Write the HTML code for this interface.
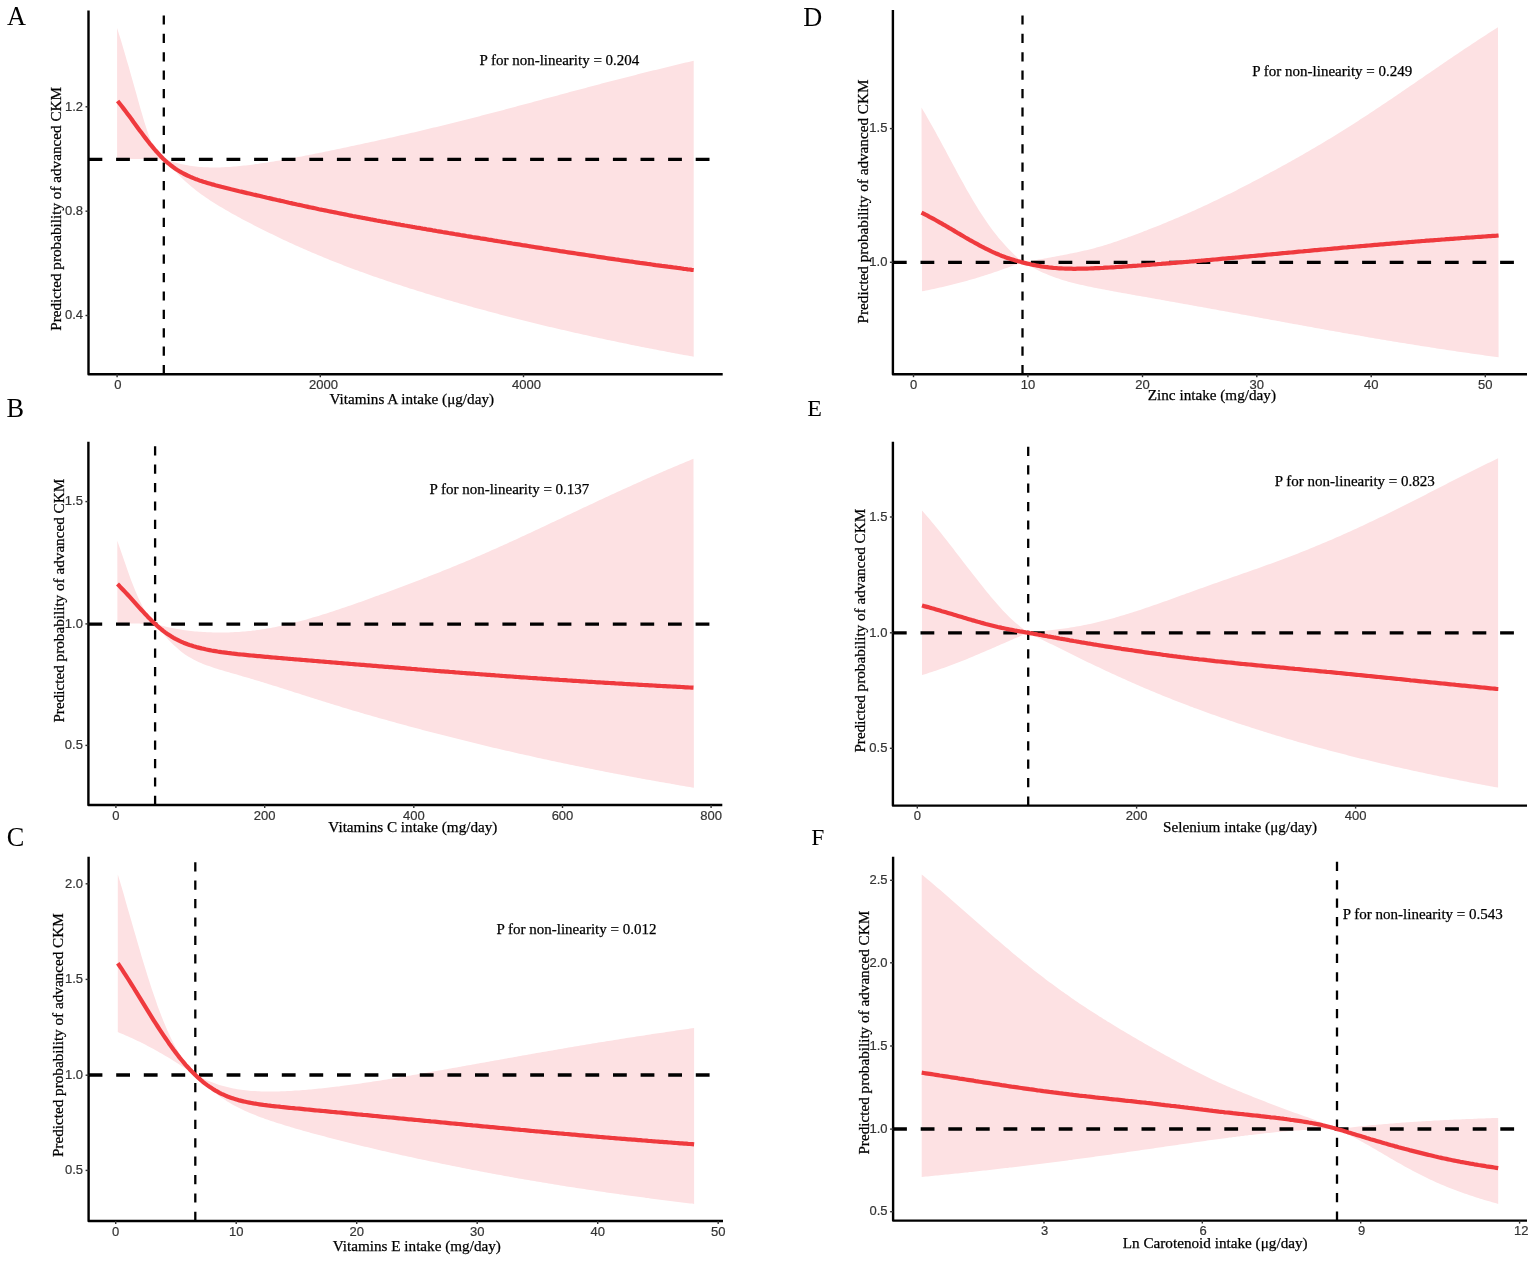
<!DOCTYPE html>
<html><head><meta charset="utf-8"><title>Restricted cubic spline plots</title>
<style>html,body{margin:0;padding:0;background:#fff;overflow:hidden;}svg{display:block;}</style></head><body>
<svg width="1535" height="1262" viewBox="0 0 1535 1262">
<rect width="1535" height="1262" fill="#fff"/>
<g>
<path d="M117.1,27.9 L119.0,34.2 L121.0,40.6 L122.9,47.1 L124.9,53.7 L126.8,60.4 L128.8,67.1 L130.7,74.0 L132.7,80.9 L134.6,87.8 L136.6,94.8 L138.5,101.7 L140.4,108.5 L142.4,115.2 L144.3,121.7 L146.3,128.0 L148.2,133.8 L150.2,139.2 L152.1,144.0 L154.1,148.1 L156.0,151.5 L158.0,154.3 L159.9,156.4 L161.9,158.0 L163.8,159.4 L165.8,159.9 L167.8,160.5 L169.8,161.1 L171.8,161.6 L173.8,162.2 L175.8,162.7 L177.8,163.2 L179.8,163.7 L181.8,164.2 L183.8,164.6 L185.8,165.0 L187.8,165.3 L189.8,165.7 L191.8,166.0 L193.8,166.2 L195.8,166.5 L197.8,166.7 L199.8,166.9 L201.8,167.0 L203.8,167.2 L205.8,167.3 L207.8,167.3 L209.8,167.4 L211.8,167.4 L213.8,167.5 L215.8,167.5 L217.8,167.4 L219.8,167.4 L221.8,167.3 L223.8,167.2 L225.8,167.1 L227.8,167.0 L229.8,166.9 L231.8,166.7 L233.8,166.6 L235.8,166.4 L237.8,166.2 L239.8,166.0 L241.8,165.8 L243.8,165.6 L245.8,165.4 L247.8,165.2 L249.8,164.9 L251.8,164.7 L253.8,164.4 L255.8,164.1 L257.8,163.9 L259.8,163.6 L261.8,163.3 L263.8,163.0 L265.8,162.7 L267.8,162.4 L269.8,162.0 L271.8,161.7 L273.8,161.4 L275.8,161.1 L277.8,160.7 L279.8,160.4 L281.8,160.0 L283.8,159.7 L285.8,159.3 L287.8,159.0 L289.8,158.6 L291.8,158.2 L293.8,157.9 L295.8,157.5 L297.8,157.1 L299.8,156.7 L301.8,156.4 L303.8,156.0 L305.8,155.6 L307.8,155.2 L309.8,154.8 L311.8,154.4 L313.8,154.0 L315.8,153.6 L317.8,153.2 L319.8,152.8 L321.8,152.4 L323.8,152.0 L325.8,151.6 L327.8,151.2 L329.8,150.8 L331.8,150.3 L333.8,149.9 L335.8,149.5 L337.8,149.1 L339.8,148.7 L341.8,148.3 L343.8,147.8 L345.8,147.4 L347.8,147.0 L349.8,146.6 L351.8,146.1 L353.8,145.7 L355.8,145.3 L357.8,144.8 L359.8,144.4 L361.8,144.0 L363.8,143.6 L365.8,143.1 L367.8,142.7 L369.8,142.2 L371.8,141.8 L373.8,141.4 L375.8,140.9 L377.8,140.5 L379.8,140.0 L381.8,139.6 L383.8,139.2 L385.8,138.7 L387.8,138.3 L389.8,137.8 L391.8,137.4 L393.8,136.9 L395.8,136.5 L397.8,136.0 L399.8,135.6 L401.8,135.1 L403.8,134.7 L405.8,134.2 L407.8,133.7 L409.8,133.3 L411.8,132.8 L413.8,132.4 L415.8,131.9 L417.8,131.4 L419.8,131.0 L421.8,130.5 L423.8,130.0 L425.8,129.5 L427.8,129.1 L429.7,128.6 L431.7,128.1 L433.7,127.6 L435.7,127.2 L437.7,126.7 L439.7,126.2 L441.7,125.7 L443.7,125.2 L445.7,124.7 L447.7,124.2 L449.7,123.7 L451.7,123.3 L453.7,122.8 L455.7,122.3 L457.7,121.8 L459.7,121.3 L461.7,120.8 L463.7,120.3 L465.7,119.7 L467.7,119.2 L469.7,118.7 L471.7,118.2 L473.7,117.7 L475.7,117.2 L477.7,116.7 L479.7,116.2 L481.7,115.6 L483.7,115.1 L485.7,114.6 L487.7,114.1 L489.7,113.6 L491.7,113.0 L493.7,112.5 L495.7,112.0 L497.7,111.5 L499.7,110.9 L501.7,110.4 L503.7,109.9 L505.7,109.3 L507.7,108.8 L509.7,108.3 L511.7,107.7 L513.7,107.2 L515.7,106.7 L517.7,106.1 L519.7,105.6 L521.7,105.1 L523.7,104.5 L525.7,104.0 L527.7,103.5 L529.7,102.9 L531.7,102.4 L533.7,101.8 L535.7,101.3 L537.7,100.8 L539.7,100.2 L541.7,99.7 L543.7,99.1 L545.7,98.6 L547.7,98.1 L549.7,97.5 L551.7,97.0 L553.7,96.5 L555.7,95.9 L557.7,95.4 L559.7,94.8 L561.7,94.3 L563.7,93.8 L565.7,93.2 L567.7,92.7 L569.7,92.1 L571.7,91.6 L573.7,91.1 L575.7,90.5 L577.7,90.0 L579.7,89.5 L581.7,88.9 L583.7,88.4 L585.7,87.9 L587.7,87.3 L589.7,86.8 L591.7,86.3 L593.7,85.7 L595.7,85.2 L597.7,84.7 L599.7,84.2 L601.7,83.6 L603.7,83.1 L605.7,82.6 L607.7,82.1 L609.7,81.5 L611.7,81.0 L613.7,80.5 L615.7,80.0 L617.7,79.5 L619.7,78.9 L621.7,78.4 L623.7,77.9 L625.7,77.4 L627.7,76.9 L629.7,76.4 L631.7,75.9 L633.7,75.4 L635.7,74.9 L637.7,74.3 L639.7,73.8 L641.7,73.3 L643.7,72.8 L645.7,72.3 L647.7,71.8 L649.7,71.3 L651.7,70.8 L653.7,70.3 L655.7,69.9 L657.7,69.4 L659.7,68.9 L661.7,68.4 L663.7,67.9 L665.7,67.4 L667.7,66.9 L669.7,66.4 L671.7,66.0 L673.7,65.5 L675.7,65.0 L677.7,64.5 L679.7,64.1 L681.7,63.6 L683.7,63.1 L685.7,62.6 L687.7,62.2 L689.7,61.7 L691.7,61.2 L693.7,60.8 L693.7,356.7 L691.7,356.3 L689.7,356.0 L687.7,355.6 L685.7,355.3 L683.7,354.9 L681.7,354.5 L679.7,354.2 L677.7,353.8 L675.7,353.4 L673.7,353.0 L671.7,352.7 L669.7,352.3 L667.7,351.9 L665.7,351.5 L663.7,351.1 L661.7,350.8 L659.7,350.4 L657.7,350.0 L655.7,349.6 L653.7,349.2 L651.7,348.8 L649.7,348.4 L647.7,348.0 L645.7,347.7 L643.7,347.3 L641.7,346.9 L639.7,346.5 L637.7,346.1 L635.7,345.7 L633.7,345.3 L631.7,344.9 L629.7,344.4 L627.7,344.0 L625.7,343.6 L623.7,343.2 L621.7,342.8 L619.7,342.4 L617.7,342.0 L615.7,341.6 L613.7,341.1 L611.7,340.7 L609.7,340.3 L607.7,339.9 L605.7,339.5 L603.7,339.0 L601.7,338.6 L599.7,338.2 L597.7,337.7 L595.7,337.3 L593.7,336.9 L591.7,336.4 L589.7,336.0 L587.7,335.6 L585.7,335.1 L583.7,334.7 L581.7,334.2 L579.7,333.8 L577.7,333.3 L575.7,332.9 L573.7,332.4 L571.7,332.0 L569.7,331.5 L567.7,331.1 L565.7,330.6 L563.7,330.1 L561.7,329.7 L559.7,329.2 L557.7,328.8 L555.7,328.3 L553.7,327.8 L551.7,327.3 L549.7,326.9 L547.7,326.4 L545.7,325.9 L543.7,325.4 L541.7,325.0 L539.7,324.5 L537.7,324.0 L535.7,323.5 L533.7,323.0 L531.7,322.5 L529.7,322.0 L527.7,321.5 L525.7,321.0 L523.7,320.5 L521.7,320.0 L519.7,319.5 L517.7,319.0 L515.7,318.5 L513.7,318.0 L511.7,317.5 L509.7,317.0 L507.7,316.5 L505.7,315.9 L503.7,315.4 L501.7,314.9 L499.7,314.4 L497.7,313.8 L495.7,313.3 L493.7,312.8 L491.7,312.3 L489.7,311.7 L487.7,311.2 L485.7,310.6 L483.7,310.1 L481.7,309.6 L479.7,309.0 L477.7,308.5 L475.7,307.9 L473.7,307.4 L471.7,306.8 L469.7,306.2 L467.7,305.7 L465.7,305.1 L463.7,304.6 L461.7,304.0 L459.7,303.4 L457.7,302.8 L455.7,302.3 L453.7,301.7 L451.7,301.1 L449.7,300.5 L447.7,299.9 L445.7,299.4 L443.7,298.8 L441.7,298.2 L439.7,297.6 L437.7,297.0 L435.7,296.4 L433.7,295.8 L431.7,295.2 L429.7,294.6 L427.8,294.0 L425.8,293.4 L423.8,292.7 L421.8,292.1 L419.8,291.5 L417.8,290.9 L415.8,290.3 L413.8,289.6 L411.8,289.0 L409.8,288.4 L407.8,287.7 L405.8,287.1 L403.8,286.4 L401.8,285.8 L399.8,285.1 L397.8,284.5 L395.8,283.8 L393.8,283.2 L391.8,282.5 L389.8,281.8 L387.8,281.2 L385.8,280.5 L383.8,279.8 L381.8,279.1 L379.8,278.5 L377.8,277.8 L375.8,277.1 L373.8,276.4 L371.8,275.7 L369.8,275.0 L367.8,274.3 L365.8,273.5 L363.8,272.8 L361.8,272.1 L359.8,271.4 L357.8,270.6 L355.8,269.9 L353.8,269.2 L351.8,268.4 L349.8,267.7 L347.8,266.9 L345.8,266.2 L343.8,265.4 L341.8,264.6 L339.8,263.8 L337.8,263.1 L335.8,262.3 L333.8,261.5 L331.8,260.7 L329.8,259.9 L327.8,259.1 L325.8,258.3 L323.8,257.4 L321.8,256.6 L319.8,255.8 L317.8,255.0 L315.8,254.1 L313.8,253.3 L311.8,252.4 L309.8,251.6 L307.8,250.7 L305.8,249.8 L303.8,248.9 L301.8,248.1 L299.8,247.2 L297.8,246.3 L295.8,245.4 L293.8,244.5 L291.8,243.6 L289.8,242.7 L287.8,241.7 L285.8,240.8 L283.8,239.9 L281.8,238.9 L279.8,238.0 L277.8,237.0 L275.8,236.1 L273.8,235.1 L271.8,234.1 L269.8,233.2 L267.8,232.2 L265.8,231.2 L263.8,230.2 L261.8,229.2 L259.8,228.2 L257.8,227.2 L255.8,226.2 L253.8,225.2 L251.8,224.1 L249.8,223.1 L247.8,222.0 L245.8,221.0 L243.8,219.9 L241.8,218.9 L239.8,217.8 L237.8,216.7 L235.8,215.6 L233.8,214.5 L231.8,213.4 L229.8,212.3 L227.8,211.1 L225.8,210.0 L223.8,208.8 L221.8,207.6 L219.8,206.4 L217.8,205.2 L215.8,204.0 L213.8,202.7 L211.8,201.5 L209.8,200.2 L207.8,198.8 L205.8,197.5 L203.8,196.1 L201.8,194.7 L199.8,193.2 L197.8,191.7 L195.8,190.2 L193.8,188.6 L191.8,186.9 L189.8,185.2 L187.8,183.5 L185.8,181.7 L183.8,179.9 L181.8,178.0 L179.8,176.1 L177.8,174.1 L175.8,172.1 L173.8,170.0 L171.8,167.9 L169.8,165.8 L167.8,163.7 L165.8,161.5 L163.8,159.3 L161.9,159.3 L159.9,159.3 L158.0,159.2 L156.0,159.2 L154.1,159.2 L152.1,159.2 L150.2,159.2 L148.2,159.1 L146.3,159.1 L144.3,159.1 L142.4,159.1 L140.4,159.1 L138.5,159.0 L136.6,159.0 L134.6,159.0 L132.7,159.0 L130.7,158.9 L128.8,158.9 L126.8,158.9 L124.9,158.9 L122.9,158.9 L121.0,158.8 L119.0,158.8 L117.1,158.8 Z" fill="#FDE1E3"/>
<line x1="88.5" y1="159.3" x2="722.7" y2="159.3" stroke="#000" stroke-width="3.3" stroke-dasharray="13.8 13.8"/>
<line x1="163.8" y1="374.2" x2="163.8" y2="10.5" stroke="#000" stroke-width="2.3" stroke-dasharray="9.2 9.2"/>
<path d="M117.6,101.0 L119.6,103.5 L121.6,106.0 L123.6,108.6 L125.6,111.2 L127.6,113.9 L129.6,116.6 L131.6,119.3 L133.5,122.0 L135.5,124.7 L137.5,127.5 L139.5,130.2 L141.5,132.8 L143.5,135.5 L145.5,138.1 L147.5,140.7 L149.5,143.3 L151.5,145.7 L153.5,148.1 L155.5,150.5 L157.5,152.7 L159.5,154.9 L161.5,157.0 L163.4,158.9 L165.4,160.8 L167.4,162.6 L169.4,164.2 L171.4,165.8 L173.4,167.3 L175.4,168.7 L177.4,170.0 L179.4,171.2 L181.4,172.4 L183.4,173.5 L185.4,174.5 L187.4,175.5 L189.4,176.4 L191.4,177.3 L193.4,178.1 L195.3,178.9 L197.3,179.6 L199.3,180.4 L201.3,181.0 L203.3,181.7 L205.3,182.3 L207.3,182.9 L209.3,183.5 L211.3,184.1 L213.3,184.6 L215.3,185.2 L217.3,185.7 L219.3,186.2 L221.3,186.8 L223.3,187.3 L225.2,187.8 L227.2,188.3 L229.2,188.8 L231.2,189.3 L233.2,189.7 L235.2,190.2 L237.2,190.7 L239.2,191.2 L241.2,191.6 L243.2,192.1 L245.2,192.6 L247.2,193.1 L249.2,193.5 L251.2,194.0 L253.2,194.5 L255.1,194.9 L257.1,195.4 L259.1,195.8 L261.1,196.3 L263.1,196.8 L265.1,197.2 L267.1,197.7 L269.1,198.1 L271.1,198.6 L273.1,199.1 L275.1,199.5 L277.1,200.0 L279.1,200.4 L281.1,200.9 L283.1,201.3 L285.0,201.8 L287.0,202.2 L289.0,202.7 L291.0,203.1 L293.0,203.6 L295.0,204.0 L297.0,204.5 L299.0,204.9 L301.0,205.3 L303.0,205.8 L305.0,206.2 L307.0,206.6 L309.0,207.1 L311.0,207.5 L313.0,207.9 L314.9,208.3 L316.9,208.7 L318.9,209.2 L320.9,209.6 L322.9,210.0 L324.9,210.4 L326.9,210.8 L328.9,211.2 L330.9,211.6 L332.9,212.0 L334.9,212.4 L336.9,212.8 L338.9,213.2 L340.9,213.6 L342.9,214.0 L344.9,214.4 L346.8,214.8 L348.8,215.2 L350.8,215.6 L352.8,216.0 L354.8,216.3 L356.8,216.7 L358.8,217.1 L360.8,217.5 L362.8,217.9 L364.8,218.2 L366.8,218.6 L368.8,219.0 L370.8,219.4 L372.8,219.7 L374.8,220.1 L376.7,220.5 L378.7,220.8 L380.7,221.2 L382.7,221.6 L384.7,221.9 L386.7,222.3 L388.7,222.6 L390.7,223.0 L392.7,223.4 L394.7,223.7 L396.7,224.1 L398.7,224.4 L400.7,224.8 L402.7,225.1 L404.7,225.5 L406.6,225.8 L408.6,226.2 L410.6,226.5 L412.6,226.9 L414.6,227.2 L416.6,227.6 L418.6,227.9 L420.6,228.2 L422.6,228.6 L424.6,228.9 L426.6,229.3 L428.6,229.6 L430.6,229.9 L432.6,230.3 L434.6,230.6 L436.5,231.0 L438.5,231.3 L440.5,231.6 L442.5,232.0 L444.5,232.3 L446.5,232.6 L448.5,233.0 L450.5,233.3 L452.5,233.6 L454.5,234.0 L456.5,234.3 L458.5,234.6 L460.5,235.0 L462.5,235.3 L464.5,235.6 L466.4,236.0 L468.4,236.3 L470.4,236.6 L472.4,237.0 L474.4,237.3 L476.4,237.6 L478.4,237.9 L480.4,238.3 L482.4,238.6 L484.4,238.9 L486.4,239.2 L488.4,239.6 L490.4,239.9 L492.4,240.2 L494.4,240.6 L496.4,240.9 L498.3,241.2 L500.3,241.5 L502.3,241.9 L504.3,242.2 L506.3,242.5 L508.3,242.8 L510.3,243.1 L512.3,243.5 L514.3,243.8 L516.3,244.1 L518.3,244.4 L520.3,244.7 L522.3,245.1 L524.3,245.4 L526.3,245.7 L528.2,246.0 L530.2,246.3 L532.2,246.7 L534.2,247.0 L536.2,247.3 L538.2,247.6 L540.2,247.9 L542.2,248.2 L544.2,248.6 L546.2,248.9 L548.2,249.2 L550.2,249.5 L552.2,249.8 L554.2,250.1 L556.2,250.4 L558.1,250.7 L560.1,251.1 L562.1,251.4 L564.1,251.7 L566.1,252.0 L568.1,252.3 L570.1,252.6 L572.1,252.9 L574.1,253.2 L576.1,253.5 L578.1,253.8 L580.1,254.1 L582.1,254.4 L584.1,254.7 L586.1,255.0 L588.0,255.3 L590.0,255.6 L592.0,255.9 L594.0,256.2 L596.0,256.5 L598.0,256.8 L600.0,257.1 L602.0,257.4 L604.0,257.7 L606.0,258.0 L608.0,258.3 L610.0,258.6 L612.0,258.9 L614.0,259.2 L616.0,259.5 L617.9,259.7 L619.9,260.0 L621.9,260.3 L623.9,260.6 L625.9,260.9 L627.9,261.2 L629.9,261.5 L631.9,261.7 L633.9,262.0 L635.9,262.3 L637.9,262.6 L639.9,262.9 L641.9,263.1 L643.9,263.4 L645.9,263.7 L647.9,264.0 L649.8,264.2 L651.8,264.5 L653.8,264.8 L655.8,265.1 L657.8,265.3 L659.8,265.6 L661.8,265.9 L663.8,266.1 L665.8,266.4 L667.8,266.7 L669.8,266.9 L671.8,267.2 L673.8,267.5 L675.8,267.7 L677.8,268.0 L679.7,268.2 L681.7,268.5 L683.7,268.8 L685.7,269.0 L687.7,269.3 L689.7,269.5 L691.7,269.8 L693.7,270.0" fill="none" stroke="#EF3A3E" stroke-width="4.2" stroke-linejoin="round" stroke-linecap="butt"/>
<path d="M88.5,10.5 V374.2 H722.7" fill="none" stroke="#000" stroke-width="2.4" stroke-linejoin="round"/>
<line x1="117.1" y1="374.2" x2="117.1" y2="377.2" stroke="#333" stroke-width="1.4"/>
<text x="117.9" y="389.0" text-anchor="middle" font-family="'Liberation Sans', Arial, sans-serif" font-size="13" fill="#333333" stroke="#333333" stroke-width="0.2">0</text>
<line x1="320.3" y1="374.2" x2="320.3" y2="377.2" stroke="#333" stroke-width="1.4"/>
<text x="323.4" y="389.0" text-anchor="middle" font-family="'Liberation Sans', Arial, sans-serif" font-size="13" fill="#333333" stroke="#333333" stroke-width="0.2">2000</text>
<line x1="523.5" y1="374.2" x2="523.5" y2="377.2" stroke="#333" stroke-width="1.4"/>
<text x="526.4" y="389.0" text-anchor="middle" font-family="'Liberation Sans', Arial, sans-serif" font-size="13" fill="#333333" stroke="#333333" stroke-width="0.2">4000</text>
<line x1="85.5" y1="106.8" x2="88.5" y2="106.8" stroke="#333" stroke-width="1.4"/>
<text x="83.0" y="110.5" text-anchor="end" font-family="'Liberation Sans', Arial, sans-serif" font-size="13" fill="#333333" stroke="#333333" stroke-width="0.2">1.2</text>
<line x1="85.5" y1="211.2" x2="88.5" y2="211.2" stroke="#333" stroke-width="1.4"/>
<text x="83.0" y="214.9" text-anchor="end" font-family="'Liberation Sans', Arial, sans-serif" font-size="13" fill="#333333" stroke="#333333" stroke-width="0.2">0.8</text>
<line x1="85.5" y1="315.5" x2="88.5" y2="315.5" stroke="#333" stroke-width="1.4"/>
<text x="83.0" y="319.2" text-anchor="end" font-family="'Liberation Sans', Arial, sans-serif" font-size="13" fill="#333333" stroke="#333333" stroke-width="0.2">0.4</text>
<text x="411.8" y="404.0" text-anchor="middle" font-family="'Liberation Serif', 'Times New Roman', serif" font-size="15.2" fill="#000" stroke="#000" stroke-width="0.25">Vitamins A intake (μg/day)</text>
<text transform="translate(61.0,208.9) rotate(-90)" text-anchor="middle" font-family="'Liberation Serif', 'Times New Roman', serif" font-size="15.2" fill="#000" stroke="#000" stroke-width="0.25">Predicted probability of advanced CKM</text>
<text x="479.4" y="65.4" font-family="'Liberation Serif', 'Times New Roman', serif" font-size="15" fill="#000" stroke="#000" stroke-width="0.25">P for non-linearity = 0.204</text>
<text transform="translate(7.1,25.4) scale(1,1.075)" font-family="'Liberation Serif', 'Times New Roman', serif" font-size="26.3" fill="#000">A</text>
</g>
<g>
<path d="M117.3,540.8 L119.3,546.5 L121.3,552.2 L123.3,557.9 L125.3,563.7 L127.2,569.3 L129.2,574.9 L131.2,580.4 L133.2,585.6 L135.2,590.6 L137.2,595.3 L139.2,599.7 L141.2,603.7 L143.2,607.4 L145.2,610.8 L147.1,613.9 L149.1,616.8 L151.1,619.4 L153.1,621.9 L155.1,624.3 L157.1,624.6 L159.1,625.1 L161.1,625.6 L163.1,626.1 L165.1,626.5 L167.1,627.0 L169.1,627.4 L171.1,627.8 L173.0,628.2 L175.0,628.6 L177.0,629.0 L179.0,629.3 L181.0,629.6 L183.0,629.9 L185.0,630.2 L187.0,630.5 L189.0,630.7 L191.0,630.9 L193.0,631.2 L195.0,631.4 L197.0,631.5 L199.0,631.7 L201.0,631.8 L203.0,632.0 L205.0,632.1 L206.9,632.2 L208.9,632.3 L210.9,632.3 L212.9,632.4 L214.9,632.4 L216.9,632.5 L218.9,632.5 L220.9,632.5 L222.9,632.5 L224.9,632.5 L226.9,632.4 L228.9,632.4 L230.9,632.3 L232.9,632.2 L234.9,632.1 L236.9,632.0 L238.9,631.9 L240.8,631.8 L242.8,631.6 L244.8,631.5 L246.8,631.3 L248.8,631.1 L250.8,630.9 L252.8,630.6 L254.8,630.4 L256.8,630.1 L258.8,629.9 L260.8,629.6 L262.8,629.3 L264.8,629.0 L266.8,628.6 L268.8,628.3 L270.8,627.9 L272.8,627.6 L274.7,627.2 L276.7,626.8 L278.7,626.3 L280.7,625.9 L282.7,625.5 L284.7,625.0 L286.7,624.6 L288.7,624.1 L290.7,623.6 L292.7,623.1 L294.7,622.6 L296.7,622.1 L298.7,621.6 L300.7,621.0 L302.7,620.5 L304.7,619.9 L306.6,619.4 L308.6,618.8 L310.6,618.2 L312.6,617.6 L314.6,617.1 L316.6,616.5 L318.6,615.9 L320.6,615.2 L322.6,614.6 L324.6,614.0 L326.6,613.4 L328.6,612.7 L330.6,612.1 L332.6,611.4 L334.6,610.8 L336.6,610.1 L338.6,609.5 L340.5,608.8 L342.5,608.1 L344.5,607.4 L346.5,606.8 L348.5,606.1 L350.5,605.4 L352.5,604.7 L354.5,604.0 L356.5,603.3 L358.5,602.6 L360.5,601.9 L362.5,601.2 L364.5,600.4 L366.5,599.7 L368.5,599.0 L370.5,598.3 L372.5,597.6 L374.4,596.8 L376.4,596.1 L378.4,595.4 L380.4,594.6 L382.4,593.9 L384.4,593.2 L386.4,592.4 L388.4,591.7 L390.4,591.0 L392.4,590.2 L394.4,589.5 L396.4,588.7 L398.4,588.0 L400.4,587.2 L402.4,586.5 L404.4,585.7 L406.4,585.0 L408.3,584.2 L410.3,583.5 L412.3,582.7 L414.3,582.0 L416.3,581.2 L418.3,580.4 L420.3,579.7 L422.3,578.9 L424.3,578.1 L426.3,577.4 L428.3,576.6 L430.3,575.8 L432.3,575.0 L434.3,574.3 L436.3,573.5 L438.3,572.7 L440.3,571.9 L442.2,571.1 L444.2,570.3 L446.2,569.5 L448.2,568.7 L450.2,567.9 L452.2,567.1 L454.2,566.3 L456.2,565.5 L458.2,564.6 L460.2,563.8 L462.2,563.0 L464.2,562.2 L466.2,561.3 L468.2,560.5 L470.2,559.7 L472.2,558.8 L474.2,558.0 L476.1,557.1 L478.1,556.2 L480.1,555.4 L482.1,554.5 L484.1,553.7 L486.1,552.8 L488.1,551.9 L490.1,551.0 L492.1,550.1 L494.1,549.3 L496.1,548.4 L498.1,547.5 L500.1,546.6 L502.1,545.7 L504.1,544.8 L506.1,543.9 L508.1,543.0 L510.0,542.1 L512.0,541.2 L514.0,540.3 L516.0,539.4 L518.0,538.4 L520.0,537.5 L522.0,536.6 L524.0,535.7 L526.0,534.8 L528.0,533.8 L530.0,532.9 L532.0,532.0 L534.0,531.1 L536.0,530.1 L538.0,529.2 L540.0,528.3 L542.0,527.3 L543.9,526.4 L545.9,525.5 L547.9,524.5 L549.9,523.6 L551.9,522.6 L553.9,521.7 L555.9,520.8 L557.9,519.8 L559.9,518.9 L561.9,517.9 L563.9,517.0 L565.9,516.1 L567.9,515.1 L569.9,514.2 L571.9,513.2 L573.9,512.3 L575.8,511.4 L577.8,510.4 L579.8,509.5 L581.8,508.5 L583.8,507.6 L585.8,506.7 L587.8,505.7 L589.8,504.8 L591.8,503.9 L593.8,502.9 L595.8,502.0 L597.8,501.1 L599.8,500.1 L601.8,499.2 L603.8,498.3 L605.8,497.3 L607.8,496.4 L609.7,495.5 L611.7,494.6 L613.7,493.7 L615.7,492.7 L617.7,491.8 L619.7,490.9 L621.7,490.0 L623.7,489.1 L625.7,488.2 L627.7,487.3 L629.7,486.4 L631.7,485.5 L633.7,484.6 L635.7,483.7 L637.7,482.8 L639.7,481.9 L641.7,481.0 L643.6,480.1 L645.6,479.2 L647.6,478.3 L649.6,477.4 L651.6,476.6 L653.6,475.7 L655.6,474.8 L657.6,473.9 L659.6,473.1 L661.6,472.2 L663.6,471.3 L665.6,470.5 L667.6,469.6 L669.6,468.8 L671.6,467.9 L673.6,467.1 L675.6,466.2 L677.5,465.4 L679.5,464.5 L681.5,463.7 L683.5,462.9 L685.5,462.0 L687.5,461.2 L689.5,460.4 L691.5,459.5 L693.5,458.7 L693.9,787.7 L691.9,787.4 L689.9,787.0 L687.9,786.7 L685.9,786.4 L683.9,786.0 L681.9,785.7 L679.9,785.4 L677.9,785.0 L675.9,784.7 L673.9,784.3 L671.9,784.0 L670.0,783.6 L668.0,783.3 L666.0,782.9 L664.0,782.6 L662.0,782.2 L660.0,781.9 L658.0,781.5 L656.0,781.2 L654.0,780.8 L652.0,780.5 L650.0,780.1 L648.0,779.8 L646.0,779.4 L644.0,779.0 L642.0,778.7 L640.0,778.3 L638.0,777.9 L636.0,777.6 L634.0,777.2 L632.0,776.8 L630.0,776.5 L628.0,776.1 L626.1,775.7 L624.1,775.3 L622.1,775.0 L620.1,774.6 L618.1,774.2 L616.1,773.8 L614.1,773.4 L612.1,773.1 L610.1,772.7 L608.1,772.3 L606.1,771.9 L604.1,771.5 L602.1,771.1 L600.1,770.7 L598.1,770.3 L596.1,769.9 L594.1,769.5 L592.1,769.1 L590.1,768.7 L588.1,768.3 L586.1,767.9 L584.1,767.5 L582.1,767.1 L580.2,766.7 L578.2,766.3 L576.2,765.9 L574.2,765.5 L572.2,765.1 L570.2,764.7 L568.2,764.3 L566.2,763.8 L564.2,763.4 L562.2,763.0 L560.2,762.6 L558.2,762.2 L556.2,761.7 L554.2,761.3 L552.2,760.9 L550.2,760.5 L548.2,760.0 L546.2,759.6 L544.2,759.2 L542.2,758.7 L540.2,758.3 L538.2,757.9 L536.3,757.4 L534.3,757.0 L532.3,756.5 L530.3,756.1 L528.3,755.6 L526.3,755.2 L524.3,754.8 L522.3,754.3 L520.3,753.9 L518.3,753.4 L516.3,752.9 L514.3,752.5 L512.3,752.0 L510.3,751.6 L508.3,751.1 L506.3,750.7 L504.3,750.2 L502.3,749.7 L500.3,749.3 L498.3,748.8 L496.3,748.3 L494.3,747.9 L492.3,747.4 L490.4,746.9 L488.4,746.4 L486.4,746.0 L484.4,745.5 L482.4,745.0 L480.4,744.5 L478.4,744.0 L476.4,743.5 L474.4,743.1 L472.4,742.6 L470.4,742.1 L468.4,741.6 L466.4,741.1 L464.4,740.6 L462.4,740.1 L460.4,739.6 L458.4,739.1 L456.4,738.6 L454.4,738.1 L452.4,737.6 L450.4,737.1 L448.4,736.6 L446.5,736.1 L444.5,735.6 L442.5,735.1 L440.5,734.6 L438.5,734.0 L436.5,733.5 L434.5,733.0 L432.5,732.5 L430.5,732.0 L428.5,731.4 L426.5,730.9 L424.5,730.4 L422.5,729.9 L420.5,729.3 L418.5,728.8 L416.5,728.3 L414.5,727.8 L412.5,727.2 L410.5,726.7 L408.5,726.2 L406.5,725.6 L404.5,725.1 L402.5,724.5 L400.6,724.0 L398.6,723.4 L396.6,722.9 L394.6,722.3 L392.6,721.8 L390.6,721.2 L388.6,720.7 L386.6,720.1 L384.6,719.6 L382.6,719.0 L380.6,718.4 L378.6,717.9 L376.6,717.3 L374.6,716.8 L372.6,716.2 L370.6,715.6 L368.6,715.0 L366.6,714.5 L364.6,713.9 L362.6,713.3 L360.6,712.7 L358.6,712.1 L356.7,711.5 L354.7,710.9 L352.7,710.4 L350.7,709.8 L348.7,709.2 L346.7,708.6 L344.7,708.0 L342.7,707.4 L340.7,706.8 L338.7,706.1 L336.7,705.5 L334.7,704.9 L332.7,704.3 L330.7,703.7 L328.7,703.1 L326.7,702.5 L324.7,701.8 L322.7,701.2 L320.7,700.6 L318.7,700.0 L316.7,699.3 L314.7,698.7 L312.7,698.1 L310.8,697.4 L308.8,696.8 L306.8,696.2 L304.8,695.5 L302.8,694.9 L300.8,694.3 L298.8,693.6 L296.8,693.0 L294.8,692.4 L292.8,691.7 L290.8,691.1 L288.8,690.4 L286.8,689.8 L284.8,689.2 L282.8,688.5 L280.8,687.9 L278.8,687.3 L276.8,686.6 L274.8,686.0 L272.8,685.4 L270.8,684.8 L268.8,684.2 L266.9,683.5 L264.9,682.9 L262.9,682.3 L260.9,681.7 L258.9,681.1 L256.9,680.5 L254.9,679.9 L252.9,679.3 L250.9,678.7 L248.9,678.1 L246.9,677.5 L244.9,676.9 L242.9,676.4 L240.9,675.8 L238.9,675.2 L236.9,674.6 L234.9,674.1 L232.9,673.5 L230.9,672.9 L228.9,672.3 L226.9,671.8 L224.9,671.2 L222.9,670.6 L221.0,670.0 L219.0,669.4 L217.0,668.8 L215.0,668.2 L213.0,667.5 L211.0,666.8 L209.0,666.1 L207.0,665.4 L205.0,664.7 L203.0,663.9 L201.0,663.1 L199.0,662.2 L197.0,661.3 L195.0,660.3 L193.0,659.2 L191.0,658.1 L189.0,657.0 L187.0,655.7 L185.0,654.4 L183.0,653.0 L181.0,651.4 L179.0,649.8 L177.1,648.1 L175.1,646.3 L173.1,644.5 L171.1,642.5 L169.1,640.4 L167.1,638.3 L165.1,636.0 L163.1,633.8 L161.1,631.4 L159.1,629.1 L157.1,626.7 L155.1,624.1 L153.1,624.0 L151.1,624.0 L149.1,623.9 L147.2,623.9 L145.2,623.8 L143.2,623.8 L141.2,623.7 L139.2,623.6 L137.2,623.6 L135.3,623.5 L133.3,623.5 L131.3,623.4 L129.3,623.3 L127.3,623.3 L125.3,623.2 L123.4,623.2 L121.4,623.1 L119.4,623.1 L117.4,623.0 Z" fill="#FDE1E3"/>
<line x1="88.4" y1="624.1" x2="722.3" y2="624.1" stroke="#000" stroke-width="3.3" stroke-dasharray="13.8 13.8"/>
<line x1="155.1" y1="805.0" x2="155.1" y2="441.7" stroke="#000" stroke-width="2.3" stroke-dasharray="9.2 9.2"/>
<path d="M117.5,584.1 L119.5,586.1 L121.5,588.2 L123.5,590.3 L125.5,592.4 L127.5,594.5 L129.5,596.7 L131.5,598.9 L133.5,601.1 L135.5,603.3 L137.5,605.6 L139.5,607.8 L141.5,610.0 L143.5,612.1 L145.5,614.3 L147.5,616.4 L149.5,618.4 L151.5,620.5 L153.5,622.4 L155.5,624.3 L157.5,626.1 L159.5,627.8 L161.5,629.5 L163.5,631.1 L165.5,632.6 L167.5,634.0 L169.5,635.3 L171.5,636.6 L173.5,637.8 L175.5,638.9 L177.5,639.9 L179.5,640.9 L181.5,641.8 L183.5,642.7 L185.5,643.5 L187.5,644.3 L189.5,645.0 L191.5,645.6 L193.5,646.3 L195.5,646.8 L197.5,647.4 L199.5,647.9 L201.5,648.4 L203.5,648.8 L205.5,649.3 L207.5,649.7 L209.5,650.1 L211.5,650.5 L213.5,650.8 L215.5,651.1 L217.5,651.5 L219.5,651.8 L221.5,652.1 L223.5,652.3 L225.5,652.6 L227.5,652.9 L229.5,653.1 L231.5,653.4 L233.5,653.6 L235.5,653.8 L237.5,654.1 L239.5,654.3 L241.5,654.5 L243.5,654.7 L245.5,654.9 L247.5,655.1 L249.5,655.3 L251.5,655.5 L253.5,655.7 L255.5,655.9 L257.5,656.1 L259.5,656.2 L261.5,656.4 L263.5,656.6 L265.5,656.8 L267.5,656.9 L269.5,657.1 L271.5,657.3 L273.5,657.5 L275.5,657.6 L277.5,657.8 L279.5,658.0 L281.5,658.1 L283.5,658.3 L285.5,658.5 L287.5,658.7 L289.5,658.8 L291.5,659.0 L293.5,659.2 L295.5,659.3 L297.5,659.5 L299.5,659.6 L301.5,659.8 L303.5,660.0 L305.5,660.1 L307.5,660.3 L309.5,660.5 L311.5,660.6 L313.5,660.8 L315.5,661.0 L317.5,661.1 L319.5,661.3 L321.5,661.5 L323.5,661.6 L325.5,661.8 L327.5,662.0 L329.5,662.1 L331.5,662.3 L333.5,662.5 L335.5,662.6 L337.5,662.8 L339.5,663.0 L341.5,663.1 L343.5,663.3 L345.5,663.5 L347.5,663.6 L349.5,663.8 L351.5,664.0 L353.5,664.1 L355.5,664.3 L357.5,664.5 L359.5,664.6 L361.5,664.8 L363.5,664.9 L365.5,665.1 L367.5,665.3 L369.5,665.4 L371.5,665.6 L373.5,665.8 L375.5,665.9 L377.5,666.1 L379.5,666.3 L381.5,666.4 L383.5,666.6 L385.5,666.8 L387.5,666.9 L389.5,667.1 L391.5,667.2 L393.5,667.4 L395.5,667.6 L397.5,667.7 L399.5,667.9 L401.5,668.1 L403.5,668.2 L405.5,668.4 L407.5,668.6 L409.5,668.7 L411.5,668.9 L413.5,669.0 L415.5,669.2 L417.5,669.4 L419.5,669.5 L421.5,669.7 L423.5,669.8 L425.5,670.0 L427.5,670.2 L429.5,670.3 L431.5,670.5 L433.5,670.6 L435.5,670.8 L437.5,671.0 L439.5,671.1 L441.5,671.3 L443.5,671.4 L445.5,671.6 L447.5,671.7 L449.5,671.9 L451.5,672.0 L453.5,672.2 L455.5,672.4 L457.5,672.5 L459.5,672.7 L461.5,672.8 L463.5,673.0 L465.5,673.1 L467.5,673.3 L469.5,673.4 L471.5,673.6 L473.5,673.7 L475.5,673.9 L477.5,674.0 L479.5,674.2 L481.5,674.3 L483.5,674.5 L485.5,674.6 L487.5,674.8 L489.5,674.9 L491.5,675.1 L493.5,675.2 L495.5,675.4 L497.5,675.5 L499.5,675.7 L501.5,675.8 L503.5,676.0 L505.5,676.1 L507.5,676.3 L509.5,676.4 L511.5,676.5 L513.5,676.7 L515.5,676.8 L517.5,677.0 L519.5,677.1 L521.5,677.3 L523.5,677.4 L525.5,677.5 L527.5,677.7 L529.5,677.8 L531.5,678.0 L533.5,678.1 L535.5,678.2 L537.5,678.4 L539.5,678.5 L541.5,678.6 L543.5,678.8 L545.5,678.9 L547.5,679.1 L549.5,679.2 L551.5,679.3 L553.5,679.5 L555.5,679.6 L557.5,679.7 L559.5,679.9 L561.5,680.0 L563.5,680.1 L565.5,680.2 L567.5,680.4 L569.5,680.5 L571.5,680.6 L573.5,680.8 L575.5,680.9 L577.5,681.0 L579.5,681.1 L581.5,681.3 L583.5,681.4 L585.5,681.5 L587.5,681.7 L589.5,681.8 L591.5,681.9 L593.5,682.0 L595.5,682.2 L597.5,682.3 L599.5,682.4 L601.5,682.5 L603.5,682.6 L605.5,682.8 L607.5,682.9 L609.5,683.0 L611.5,683.1 L613.5,683.2 L615.5,683.4 L617.5,683.5 L619.5,683.6 L621.5,683.7 L623.5,683.8 L625.5,684.0 L627.5,684.1 L629.5,684.2 L631.5,684.3 L633.5,684.4 L635.5,684.5 L637.5,684.6 L639.5,684.8 L641.5,684.9 L643.5,685.0 L645.5,685.1 L647.5,685.2 L649.5,685.3 L651.5,685.4 L653.5,685.5 L655.5,685.6 L657.5,685.8 L659.5,685.9 L661.5,686.0 L663.5,686.1 L665.5,686.2 L667.5,686.3 L669.5,686.4 L671.5,686.5 L673.5,686.6 L675.5,686.7 L677.5,686.8 L679.5,686.9 L681.5,687.0 L683.5,687.1 L685.5,687.3 L687.5,687.4 L689.5,687.5 L691.5,687.6 L693.5,687.7" fill="none" stroke="#EF3A3E" stroke-width="4.2" stroke-linejoin="round" stroke-linecap="butt"/>
<path d="M88.4,441.7 V805.0 H722.3" fill="none" stroke="#000" stroke-width="2.4" stroke-linejoin="round"/>
<line x1="115.9" y1="805.0" x2="115.9" y2="808.0" stroke="#333" stroke-width="1.4"/>
<text x="115.9" y="819.8" text-anchor="middle" font-family="'Liberation Sans', Arial, sans-serif" font-size="13" fill="#333333" stroke="#333333" stroke-width="0.2">0</text>
<line x1="264.7" y1="805.0" x2="264.7" y2="808.0" stroke="#333" stroke-width="1.4"/>
<text x="264.7" y="819.8" text-anchor="middle" font-family="'Liberation Sans', Arial, sans-serif" font-size="13" fill="#333333" stroke="#333333" stroke-width="0.2">200</text>
<line x1="413.8" y1="805.0" x2="413.8" y2="808.0" stroke="#333" stroke-width="1.4"/>
<text x="413.8" y="819.8" text-anchor="middle" font-family="'Liberation Sans', Arial, sans-serif" font-size="13" fill="#333333" stroke="#333333" stroke-width="0.2">400</text>
<line x1="562.5" y1="805.0" x2="562.5" y2="808.0" stroke="#333" stroke-width="1.4"/>
<text x="562.5" y="819.8" text-anchor="middle" font-family="'Liberation Sans', Arial, sans-serif" font-size="13" fill="#333333" stroke="#333333" stroke-width="0.2">600</text>
<line x1="711.1" y1="805.0" x2="711.1" y2="808.0" stroke="#333" stroke-width="1.4"/>
<text x="711.1" y="819.8" text-anchor="middle" font-family="'Liberation Sans', Arial, sans-serif" font-size="13" fill="#333333" stroke="#333333" stroke-width="0.2">800</text>
<line x1="85.4" y1="501.6" x2="88.4" y2="501.6" stroke="#333" stroke-width="1.4"/>
<text x="82.9" y="505.3" text-anchor="end" font-family="'Liberation Sans', Arial, sans-serif" font-size="13" fill="#333333" stroke="#333333" stroke-width="0.2">1.5</text>
<line x1="85.4" y1="623.9" x2="88.4" y2="623.9" stroke="#333" stroke-width="1.4"/>
<text x="82.9" y="627.6" text-anchor="end" font-family="'Liberation Sans', Arial, sans-serif" font-size="13" fill="#333333" stroke="#333333" stroke-width="0.2">1.0</text>
<line x1="85.4" y1="745.4" x2="88.4" y2="745.4" stroke="#333" stroke-width="1.4"/>
<text x="82.9" y="749.1" text-anchor="end" font-family="'Liberation Sans', Arial, sans-serif" font-size="13" fill="#333333" stroke="#333333" stroke-width="0.2">0.5</text>
<text x="412.9" y="831.8" text-anchor="middle" font-family="'Liberation Serif', 'Times New Roman', serif" font-size="15.2" fill="#000" stroke="#000" stroke-width="0.25">Vitamins C intake (mg/day)</text>
<text transform="translate(63.8,600.7) rotate(-90)" text-anchor="middle" font-family="'Liberation Serif', 'Times New Roman', serif" font-size="15.2" fill="#000" stroke="#000" stroke-width="0.25">Predicted probability of advanced CKM</text>
<text x="429.4" y="493.8" font-family="'Liberation Serif', 'Times New Roman', serif" font-size="15" fill="#000" stroke="#000" stroke-width="0.25">P for non-linearity = 0.137</text>
<text transform="translate(6.6,416.6) scale(1,1.075)" font-family="'Liberation Serif', 'Times New Roman', serif" font-size="26.3" fill="#000">B</text>
</g>
<g>
<path d="M117.8,874.5 L119.8,881.1 L121.8,887.8 L123.8,894.6 L125.7,901.5 L127.7,908.4 L129.7,915.3 L131.7,922.2 L133.7,929.2 L135.7,936.1 L137.7,942.9 L139.7,949.7 L141.6,956.4 L143.6,963.1 L145.6,969.6 L147.6,976.0 L149.6,982.3 L151.6,988.4 L153.6,994.3 L155.6,1000.1 L157.5,1005.7 L159.5,1011.1 L161.5,1016.3 L163.5,1021.3 L165.5,1026.1 L167.5,1030.7 L169.5,1035.0 L171.5,1039.2 L173.4,1043.0 L175.4,1046.7 L177.4,1050.2 L179.4,1053.4 L181.4,1056.5 L183.4,1059.5 L185.4,1062.3 L187.4,1065.0 L189.3,1067.6 L191.3,1070.1 L193.3,1072.6 L195.3,1075.0 L197.3,1076.0 L199.3,1076.9 L201.3,1077.8 L203.3,1078.7 L205.3,1079.6 L207.3,1080.4 L209.3,1081.3 L211.3,1082.0 L213.3,1082.8 L215.3,1083.5 L217.2,1084.2 L219.2,1084.9 L221.2,1085.5 L223.2,1086.1 L225.2,1086.6 L227.2,1087.1 L229.2,1087.6 L231.2,1088.0 L233.2,1088.5 L235.2,1088.8 L237.2,1089.2 L239.2,1089.5 L241.2,1089.8 L243.2,1090.0 L245.2,1090.3 L247.2,1090.5 L249.2,1090.7 L251.2,1090.9 L253.2,1091.0 L255.2,1091.1 L257.2,1091.2 L259.1,1091.3 L261.1,1091.4 L263.1,1091.4 L265.1,1091.5 L267.1,1091.5 L269.1,1091.5 L271.1,1091.5 L273.1,1091.5 L275.1,1091.5 L277.1,1091.4 L279.1,1091.4 L281.1,1091.3 L283.1,1091.3 L285.1,1091.2 L287.1,1091.1 L289.1,1091.0 L291.1,1090.9 L293.1,1090.8 L295.1,1090.6 L297.1,1090.5 L299.1,1090.4 L301.0,1090.2 L303.0,1090.1 L305.0,1089.9 L307.0,1089.8 L309.0,1089.6 L311.0,1089.4 L313.0,1089.2 L315.0,1089.0 L317.0,1088.8 L319.0,1088.6 L321.0,1088.4 L323.0,1088.2 L325.0,1088.0 L327.0,1087.8 L329.0,1087.6 L331.0,1087.3 L333.0,1087.1 L335.0,1086.8 L337.0,1086.6 L339.0,1086.4 L340.9,1086.1 L342.9,1085.8 L344.9,1085.6 L346.9,1085.3 L348.9,1085.1 L350.9,1084.8 L352.9,1084.5 L354.9,1084.2 L356.9,1084.0 L358.9,1083.7 L360.9,1083.4 L362.9,1083.1 L364.9,1082.8 L366.9,1082.5 L368.9,1082.2 L370.9,1081.9 L372.9,1081.6 L374.9,1081.3 L376.9,1081.0 L378.9,1080.7 L380.9,1080.4 L382.8,1080.1 L384.8,1079.7 L386.8,1079.4 L388.8,1079.1 L390.8,1078.8 L392.8,1078.5 L394.8,1078.1 L396.8,1077.8 L398.8,1077.5 L400.8,1077.1 L402.8,1076.8 L404.8,1076.5 L406.8,1076.1 L408.8,1075.8 L410.8,1075.4 L412.8,1075.1 L414.8,1074.8 L416.8,1074.4 L418.8,1074.1 L420.8,1073.7 L422.8,1073.4 L424.7,1073.0 L426.7,1072.7 L428.7,1072.3 L430.7,1072.0 L432.7,1071.6 L434.7,1071.3 L436.7,1070.9 L438.7,1070.6 L440.7,1070.2 L442.7,1069.9 L444.7,1069.5 L446.7,1069.2 L448.7,1068.8 L450.7,1068.5 L452.7,1068.1 L454.7,1067.7 L456.7,1067.4 L458.7,1067.0 L460.7,1066.7 L462.7,1066.3 L464.7,1066.0 L466.6,1065.6 L468.6,1065.2 L470.6,1064.9 L472.6,1064.5 L474.6,1064.2 L476.6,1063.8 L478.6,1063.4 L480.6,1063.1 L482.6,1062.7 L484.6,1062.4 L486.6,1062.0 L488.6,1061.7 L490.6,1061.3 L492.6,1060.9 L494.6,1060.6 L496.6,1060.2 L498.6,1059.9 L500.6,1059.5 L502.6,1059.2 L504.6,1058.8 L506.6,1058.4 L508.5,1058.1 L510.5,1057.7 L512.5,1057.4 L514.5,1057.0 L516.5,1056.7 L518.5,1056.3 L520.5,1056.0 L522.5,1055.6 L524.5,1055.3 L526.5,1054.9 L528.5,1054.6 L530.5,1054.2 L532.5,1053.8 L534.5,1053.5 L536.5,1053.1 L538.5,1052.8 L540.5,1052.5 L542.5,1052.1 L544.5,1051.8 L546.5,1051.4 L548.5,1051.1 L550.4,1050.7 L552.4,1050.4 L554.4,1050.0 L556.4,1049.7 L558.4,1049.3 L560.4,1049.0 L562.4,1048.7 L564.4,1048.3 L566.4,1048.0 L568.4,1047.6 L570.4,1047.3 L572.4,1047.0 L574.4,1046.6 L576.4,1046.3 L578.4,1045.9 L580.4,1045.6 L582.4,1045.3 L584.4,1044.9 L586.4,1044.6 L588.4,1044.3 L590.3,1044.0 L592.3,1043.6 L594.3,1043.3 L596.3,1043.0 L598.3,1042.6 L600.3,1042.3 L602.3,1042.0 L604.3,1041.7 L606.3,1041.3 L608.3,1041.0 L610.3,1040.7 L612.3,1040.4 L614.3,1040.0 L616.3,1039.7 L618.3,1039.4 L620.3,1039.1 L622.3,1038.8 L624.3,1038.5 L626.3,1038.1 L628.3,1037.8 L630.3,1037.5 L632.2,1037.2 L634.2,1036.9 L636.2,1036.6 L638.2,1036.3 L640.2,1036.0 L642.2,1035.7 L644.2,1035.4 L646.2,1035.1 L648.2,1034.7 L650.2,1034.4 L652.2,1034.1 L654.2,1033.8 L656.2,1033.5 L658.2,1033.2 L660.2,1032.9 L662.2,1032.7 L664.2,1032.4 L666.2,1032.1 L668.2,1031.8 L670.2,1031.5 L672.2,1031.2 L674.1,1030.9 L676.1,1030.6 L678.1,1030.3 L680.1,1030.0 L682.1,1029.7 L684.1,1029.5 L686.1,1029.2 L688.1,1028.9 L690.1,1028.6 L692.1,1028.3 L694.1,1028.1 L694.1,1203.9 L692.1,1203.6 L690.1,1203.4 L688.1,1203.2 L686.1,1202.9 L684.1,1202.7 L682.1,1202.4 L680.1,1202.2 L678.1,1201.9 L676.1,1201.7 L674.1,1201.5 L672.2,1201.2 L670.2,1201.0 L668.2,1200.7 L666.2,1200.5 L664.2,1200.2 L662.2,1199.9 L660.2,1199.7 L658.2,1199.4 L656.2,1199.2 L654.2,1198.9 L652.2,1198.7 L650.2,1198.4 L648.2,1198.1 L646.2,1197.9 L644.2,1197.6 L642.2,1197.3 L640.2,1197.1 L638.2,1196.8 L636.2,1196.5 L634.2,1196.3 L632.2,1196.0 L630.3,1195.7 L628.3,1195.5 L626.3,1195.2 L624.3,1194.9 L622.3,1194.6 L620.3,1194.4 L618.3,1194.1 L616.3,1193.8 L614.3,1193.5 L612.3,1193.2 L610.3,1192.9 L608.3,1192.7 L606.3,1192.4 L604.3,1192.1 L602.3,1191.8 L600.3,1191.5 L598.3,1191.2 L596.3,1190.9 L594.3,1190.6 L592.3,1190.3 L590.3,1190.0 L588.4,1189.7 L586.4,1189.4 L584.4,1189.1 L582.4,1188.8 L580.4,1188.5 L578.4,1188.2 L576.4,1187.9 L574.4,1187.6 L572.4,1187.3 L570.4,1187.0 L568.4,1186.7 L566.4,1186.4 L564.4,1186.0 L562.4,1185.7 L560.4,1185.4 L558.4,1185.1 L556.4,1184.8 L554.4,1184.4 L552.4,1184.1 L550.4,1183.8 L548.5,1183.5 L546.5,1183.1 L544.5,1182.8 L542.5,1182.5 L540.5,1182.1 L538.5,1181.8 L536.5,1181.5 L534.5,1181.1 L532.5,1180.8 L530.5,1180.4 L528.5,1180.1 L526.5,1179.8 L524.5,1179.4 L522.5,1179.1 L520.5,1178.7 L518.5,1178.4 L516.5,1178.0 L514.5,1177.7 L512.5,1177.3 L510.5,1176.9 L508.5,1176.6 L506.6,1176.2 L504.6,1175.9 L502.6,1175.5 L500.6,1175.1 L498.6,1174.8 L496.6,1174.4 L494.6,1174.0 L492.6,1173.7 L490.6,1173.3 L488.6,1172.9 L486.6,1172.5 L484.6,1172.2 L482.6,1171.8 L480.6,1171.4 L478.6,1171.0 L476.6,1170.6 L474.6,1170.3 L472.6,1169.9 L470.6,1169.5 L468.6,1169.1 L466.6,1168.7 L464.7,1168.3 L462.7,1167.9 L460.7,1167.5 L458.7,1167.1 L456.7,1166.7 L454.7,1166.3 L452.7,1165.9 L450.7,1165.5 L448.7,1165.1 L446.7,1164.7 L444.7,1164.3 L442.7,1163.9 L440.7,1163.5 L438.7,1163.1 L436.7,1162.6 L434.7,1162.2 L432.7,1161.8 L430.7,1161.4 L428.7,1161.0 L426.7,1160.6 L424.7,1160.1 L422.8,1159.7 L420.8,1159.3 L418.8,1158.9 L416.8,1158.4 L414.8,1158.0 L412.8,1157.6 L410.8,1157.1 L408.8,1156.7 L406.8,1156.3 L404.8,1155.8 L402.8,1155.4 L400.8,1154.9 L398.8,1154.5 L396.8,1154.0 L394.8,1153.6 L392.8,1153.2 L390.8,1152.7 L388.8,1152.2 L386.8,1151.8 L384.8,1151.3 L382.8,1150.9 L380.9,1150.4 L378.9,1150.0 L376.9,1149.5 L374.9,1149.0 L372.9,1148.6 L370.9,1148.1 L368.9,1147.6 L366.9,1147.1 L364.9,1146.7 L362.9,1146.2 L360.9,1145.7 L358.9,1145.2 L356.9,1144.7 L354.9,1144.2 L352.9,1143.8 L350.9,1143.3 L348.9,1142.8 L346.9,1142.3 L344.9,1141.8 L342.9,1141.3 L340.9,1140.8 L339.0,1140.3 L337.0,1139.8 L335.0,1139.2 L333.0,1138.7 L331.0,1138.2 L329.0,1137.7 L327.0,1137.2 L325.0,1136.6 L323.0,1136.1 L321.0,1135.6 L319.0,1135.1 L317.0,1134.5 L315.0,1134.0 L313.0,1133.4 L311.0,1132.9 L309.0,1132.3 L307.0,1131.8 L305.0,1131.2 L303.0,1130.7 L301.0,1130.1 L299.1,1129.5 L297.1,1128.9 L295.1,1128.4 L293.1,1127.8 L291.1,1127.2 L289.1,1126.6 L287.1,1126.0 L285.1,1125.4 L283.1,1124.8 L281.1,1124.1 L279.1,1123.5 L277.1,1122.9 L275.1,1122.2 L273.1,1121.6 L271.1,1120.9 L269.1,1120.2 L267.1,1119.6 L265.1,1118.9 L263.1,1118.1 L261.1,1117.4 L259.1,1116.7 L257.2,1115.9 L255.2,1115.1 L253.2,1114.3 L251.2,1113.5 L249.2,1112.7 L247.2,1111.8 L245.2,1110.9 L243.2,1110.0 L241.2,1109.1 L239.2,1108.1 L237.2,1107.1 L235.2,1106.0 L233.2,1104.9 L231.2,1103.8 L229.2,1102.6 L227.2,1101.4 L225.2,1100.1 L223.2,1098.8 L221.2,1097.4 L219.2,1096.0 L217.2,1094.5 L215.3,1093.0 L213.3,1091.4 L211.3,1089.8 L209.3,1088.1 L207.3,1086.3 L205.3,1084.5 L203.3,1082.7 L201.3,1080.8 L199.3,1078.9 L197.3,1077.0 L195.3,1075.1 L193.3,1073.7 L191.3,1072.4 L189.3,1071.1 L187.4,1069.8 L185.4,1068.5 L183.4,1067.2 L181.4,1065.9 L179.4,1064.6 L177.4,1063.3 L175.4,1062.1 L173.4,1060.8 L171.5,1059.6 L169.5,1058.3 L167.5,1057.1 L165.5,1055.9 L163.5,1054.8 L161.5,1053.6 L159.5,1052.4 L157.5,1051.3 L155.6,1050.2 L153.6,1049.1 L151.6,1048.0 L149.6,1046.9 L147.6,1045.9 L145.6,1044.8 L143.6,1043.8 L141.6,1042.8 L139.7,1041.8 L137.7,1040.9 L135.7,1039.9 L133.7,1039.0 L131.7,1038.1 L129.7,1037.2 L127.7,1036.3 L125.7,1035.4 L123.8,1034.6 L121.8,1033.7 L119.8,1032.9 L117.8,1032.1 Z" fill="#FDE1E3"/>
<line x1="88.6" y1="1075.0" x2="723.0" y2="1075.0" stroke="#000" stroke-width="3.3" stroke-dasharray="13.8 13.8"/>
<line x1="195.3" y1="1221.0" x2="195.3" y2="856.8" stroke="#000" stroke-width="2.3" stroke-dasharray="9.2 9.2"/>
<path d="M117.8,963.3 L119.8,966.2 L121.8,969.2 L123.8,972.3 L125.8,975.3 L127.8,978.5 L129.8,981.6 L131.8,984.8 L133.8,988.0 L135.7,991.2 L137.7,994.4 L139.7,997.7 L141.7,1000.9 L143.7,1004.2 L145.7,1007.4 L147.7,1010.7 L149.7,1013.9 L151.7,1017.1 L153.7,1020.3 L155.7,1023.4 L157.7,1026.5 L159.7,1029.6 L161.7,1032.6 L163.7,1035.6 L165.7,1038.5 L167.7,1041.4 L169.6,1044.3 L171.6,1047.0 L173.6,1049.8 L175.6,1052.4 L177.6,1055.0 L179.6,1057.6 L181.6,1060.0 L183.6,1062.4 L185.6,1064.8 L187.6,1067.0 L189.6,1069.2 L191.6,1071.3 L193.6,1073.3 L195.6,1075.3 L197.6,1077.1 L199.6,1078.9 L201.6,1080.7 L203.5,1082.3 L205.5,1083.9 L207.5,1085.4 L209.5,1086.8 L211.5,1088.1 L213.5,1089.4 L215.5,1090.6 L217.5,1091.7 L219.5,1092.8 L221.5,1093.8 L223.5,1094.7 L225.5,1095.6 L227.5,1096.5 L229.5,1097.2 L231.5,1097.9 L233.5,1098.6 L235.5,1099.2 L237.4,1099.8 L239.4,1100.4 L241.4,1100.9 L243.4,1101.4 L245.4,1101.8 L247.4,1102.2 L249.4,1102.6 L251.4,1103.0 L253.4,1103.4 L255.4,1103.7 L257.4,1104.0 L259.4,1104.3 L261.4,1104.6 L263.4,1104.9 L265.4,1105.1 L267.4,1105.4 L269.4,1105.6 L271.3,1105.9 L273.3,1106.1 L275.3,1106.3 L277.3,1106.5 L279.3,1106.7 L281.3,1107.0 L283.3,1107.2 L285.3,1107.4 L287.3,1107.6 L289.3,1107.8 L291.3,1108.0 L293.3,1108.2 L295.3,1108.4 L297.3,1108.5 L299.3,1108.7 L301.3,1108.9 L303.3,1109.1 L305.2,1109.3 L307.2,1109.5 L309.2,1109.7 L311.2,1109.9 L313.2,1110.1 L315.2,1110.3 L317.2,1110.5 L319.2,1110.6 L321.2,1110.8 L323.2,1111.0 L325.2,1111.2 L327.2,1111.4 L329.2,1111.6 L331.2,1111.8 L333.2,1112.0 L335.2,1112.2 L337.2,1112.4 L339.1,1112.5 L341.1,1112.7 L343.1,1112.9 L345.1,1113.1 L347.1,1113.3 L349.1,1113.5 L351.1,1113.7 L353.1,1113.9 L355.1,1114.1 L357.1,1114.3 L359.1,1114.5 L361.1,1114.7 L363.1,1114.9 L365.1,1115.0 L367.1,1115.2 L369.1,1115.4 L371.1,1115.6 L373.0,1115.8 L375.0,1116.0 L377.0,1116.2 L379.0,1116.4 L381.0,1116.6 L383.0,1116.8 L385.0,1117.0 L387.0,1117.2 L389.0,1117.3 L391.0,1117.5 L393.0,1117.7 L395.0,1117.9 L397.0,1118.1 L399.0,1118.3 L401.0,1118.5 L403.0,1118.7 L405.0,1118.9 L406.9,1119.1 L408.9,1119.3 L410.9,1119.4 L412.9,1119.6 L414.9,1119.8 L416.9,1120.0 L418.9,1120.2 L420.9,1120.4 L422.9,1120.6 L424.9,1120.8 L426.9,1121.0 L428.9,1121.2 L430.9,1121.4 L432.9,1121.5 L434.9,1121.7 L436.9,1121.9 L438.9,1122.1 L440.8,1122.3 L442.8,1122.5 L444.8,1122.7 L446.8,1122.9 L448.8,1123.1 L450.8,1123.3 L452.8,1123.5 L454.8,1123.6 L456.8,1123.8 L458.8,1124.0 L460.8,1124.2 L462.8,1124.4 L464.8,1124.6 L466.8,1124.8 L468.8,1125.0 L470.8,1125.2 L472.8,1125.4 L474.7,1125.5 L476.7,1125.7 L478.7,1125.9 L480.7,1126.1 L482.7,1126.3 L484.7,1126.5 L486.7,1126.7 L488.7,1126.9 L490.7,1127.1 L492.7,1127.2 L494.7,1127.4 L496.7,1127.6 L498.7,1127.8 L500.7,1128.0 L502.7,1128.2 L504.7,1128.4 L506.7,1128.6 L508.6,1128.7 L510.6,1128.9 L512.6,1129.1 L514.6,1129.3 L516.6,1129.5 L518.6,1129.7 L520.6,1129.9 L522.6,1130.0 L524.6,1130.2 L526.6,1130.4 L528.6,1130.6 L530.6,1130.8 L532.6,1131.0 L534.6,1131.2 L536.6,1131.3 L538.6,1131.5 L540.6,1131.7 L542.5,1131.9 L544.5,1132.1 L546.5,1132.2 L548.5,1132.4 L550.5,1132.6 L552.5,1132.8 L554.5,1133.0 L556.5,1133.1 L558.5,1133.3 L560.5,1133.5 L562.5,1133.7 L564.5,1133.9 L566.5,1134.0 L568.5,1134.2 L570.5,1134.4 L572.5,1134.6 L574.5,1134.7 L576.4,1134.9 L578.4,1135.1 L580.4,1135.3 L582.4,1135.4 L584.4,1135.6 L586.4,1135.8 L588.4,1135.9 L590.4,1136.1 L592.4,1136.3 L594.4,1136.5 L596.4,1136.6 L598.4,1136.8 L600.4,1137.0 L602.4,1137.1 L604.4,1137.3 L606.4,1137.5 L608.4,1137.6 L610.3,1137.8 L612.3,1138.0 L614.3,1138.1 L616.3,1138.3 L618.3,1138.5 L620.3,1138.6 L622.3,1138.8 L624.3,1138.9 L626.3,1139.1 L628.3,1139.3 L630.3,1139.4 L632.3,1139.6 L634.3,1139.7 L636.3,1139.9 L638.3,1140.1 L640.3,1140.2 L642.3,1140.4 L644.2,1140.5 L646.2,1140.7 L648.2,1140.9 L650.2,1141.0 L652.2,1141.2 L654.2,1141.3 L656.2,1141.5 L658.2,1141.6 L660.2,1141.8 L662.2,1141.9 L664.2,1142.1 L666.2,1142.2 L668.2,1142.4 L670.2,1142.5 L672.2,1142.7 L674.2,1142.8 L676.2,1143.0 L678.1,1143.1 L680.1,1143.3 L682.1,1143.4 L684.1,1143.6 L686.1,1143.7 L688.1,1143.9 L690.1,1144.0 L692.1,1144.1 L694.1,1144.3" fill="none" stroke="#EF3A3E" stroke-width="4.2" stroke-linejoin="round" stroke-linecap="butt"/>
<path d="M88.6,856.8 V1221.0 H723.0" fill="none" stroke="#000" stroke-width="2.4" stroke-linejoin="round"/>
<line x1="115.7" y1="1221.0" x2="115.7" y2="1224.0" stroke="#333" stroke-width="1.4"/>
<text x="115.7" y="1235.8" text-anchor="middle" font-family="'Liberation Sans', Arial, sans-serif" font-size="13" fill="#333333" stroke="#333333" stroke-width="0.2">0</text>
<line x1="236.2" y1="1221.0" x2="236.2" y2="1224.0" stroke="#333" stroke-width="1.4"/>
<text x="236.2" y="1235.8" text-anchor="middle" font-family="'Liberation Sans', Arial, sans-serif" font-size="13" fill="#333333" stroke="#333333" stroke-width="0.2">10</text>
<line x1="356.7" y1="1221.0" x2="356.7" y2="1224.0" stroke="#333" stroke-width="1.4"/>
<text x="356.7" y="1235.8" text-anchor="middle" font-family="'Liberation Sans', Arial, sans-serif" font-size="13" fill="#333333" stroke="#333333" stroke-width="0.2">20</text>
<line x1="477.2" y1="1221.0" x2="477.2" y2="1224.0" stroke="#333" stroke-width="1.4"/>
<text x="477.2" y="1235.8" text-anchor="middle" font-family="'Liberation Sans', Arial, sans-serif" font-size="13" fill="#333333" stroke="#333333" stroke-width="0.2">30</text>
<line x1="597.7" y1="1221.0" x2="597.7" y2="1224.0" stroke="#333" stroke-width="1.4"/>
<text x="597.7" y="1235.8" text-anchor="middle" font-family="'Liberation Sans', Arial, sans-serif" font-size="13" fill="#333333" stroke="#333333" stroke-width="0.2">40</text>
<line x1="718.2" y1="1221.0" x2="718.2" y2="1224.0" stroke="#333" stroke-width="1.4"/>
<text x="718.2" y="1235.8" text-anchor="middle" font-family="'Liberation Sans', Arial, sans-serif" font-size="13" fill="#333333" stroke="#333333" stroke-width="0.2">50</text>
<line x1="85.6" y1="883.8" x2="88.6" y2="883.8" stroke="#333" stroke-width="1.4"/>
<text x="83.1" y="887.5" text-anchor="end" font-family="'Liberation Sans', Arial, sans-serif" font-size="13" fill="#333333" stroke="#333333" stroke-width="0.2">2.0</text>
<line x1="85.6" y1="979.4" x2="88.6" y2="979.4" stroke="#333" stroke-width="1.4"/>
<text x="83.1" y="983.1" text-anchor="end" font-family="'Liberation Sans', Arial, sans-serif" font-size="13" fill="#333333" stroke="#333333" stroke-width="0.2">1.5</text>
<line x1="85.6" y1="1075.2" x2="88.6" y2="1075.2" stroke="#333" stroke-width="1.4"/>
<text x="83.1" y="1078.9" text-anchor="end" font-family="'Liberation Sans', Arial, sans-serif" font-size="13" fill="#333333" stroke="#333333" stroke-width="0.2">1.0</text>
<line x1="85.6" y1="1170.4" x2="88.6" y2="1170.4" stroke="#333" stroke-width="1.4"/>
<text x="83.1" y="1174.1" text-anchor="end" font-family="'Liberation Sans', Arial, sans-serif" font-size="13" fill="#333333" stroke="#333333" stroke-width="0.2">0.5</text>
<text x="416.8" y="1250.8" text-anchor="middle" font-family="'Liberation Serif', 'Times New Roman', serif" font-size="15.2" fill="#000" stroke="#000" stroke-width="0.25">Vitamins E intake (mg/day)</text>
<text transform="translate(63.0,1035.2) rotate(-90)" text-anchor="middle" font-family="'Liberation Serif', 'Times New Roman', serif" font-size="15.2" fill="#000" stroke="#000" stroke-width="0.25">Predicted probability of advanced CKM</text>
<text x="496.5" y="934.1" font-family="'Liberation Serif', 'Times New Roman', serif" font-size="15" fill="#000" stroke="#000" stroke-width="0.25">P for non-linearity = 0.012</text>
<text transform="translate(6.8,845.6) scale(1,1.075)" font-family="'Liberation Serif', 'Times New Roman', serif" font-size="26.3" fill="#000">C</text>
</g>
<g>
<path d="M921.5,107.6 L923.5,110.9 L925.5,114.3 L927.4,117.7 L929.4,121.2 L931.4,124.7 L933.4,128.2 L935.4,131.8 L937.3,135.4 L939.3,139.1 L941.3,142.7 L943.3,146.4 L945.3,150.1 L947.2,153.8 L949.2,157.5 L951.2,161.2 L953.2,164.9 L955.2,168.6 L957.1,172.3 L959.1,175.9 L961.1,179.5 L963.1,183.1 L965.1,186.7 L967.0,190.2 L969.0,193.6 L971.0,197.1 L973.0,200.4 L975.0,203.7 L977.0,207.0 L978.9,210.2 L980.9,213.3 L982.9,216.3 L984.9,219.3 L986.9,222.2 L988.8,225.1 L990.8,227.8 L992.8,230.5 L994.8,233.0 L996.8,235.6 L998.7,238.0 L1000.7,240.3 L1002.7,242.6 L1004.7,244.8 L1006.7,246.9 L1008.6,249.0 L1010.6,251.0 L1012.6,253.0 L1014.6,254.9 L1016.6,256.8 L1018.5,258.7 L1020.5,260.5 L1022.5,262.3 L1024.5,262.0 L1026.5,261.7 L1028.5,261.3 L1030.5,261.0 L1032.5,260.7 L1034.5,260.3 L1036.5,260.0 L1038.5,259.6 L1040.5,259.3 L1042.5,258.9 L1044.5,258.5 L1046.5,258.2 L1048.5,257.8 L1050.5,257.4 L1052.5,257.1 L1054.5,256.7 L1056.5,256.3 L1058.5,255.9 L1060.5,255.5 L1062.5,255.2 L1064.5,254.8 L1066.5,254.4 L1068.5,254.0 L1070.4,253.6 L1072.4,253.2 L1074.4,252.8 L1076.4,252.4 L1078.4,252.0 L1080.4,251.5 L1082.4,251.1 L1084.4,250.6 L1086.4,250.2 L1088.4,249.7 L1090.4,249.2 L1092.4,248.7 L1094.4,248.2 L1096.4,247.6 L1098.4,247.1 L1100.4,246.5 L1102.4,245.9 L1104.4,245.3 L1106.4,244.7 L1108.4,244.0 L1110.4,243.4 L1112.4,242.7 L1114.4,242.1 L1116.4,241.4 L1118.4,240.7 L1120.4,240.0 L1122.4,239.3 L1124.4,238.6 L1126.4,237.9 L1128.4,237.1 L1130.4,236.4 L1132.4,235.7 L1134.4,234.9 L1136.4,234.2 L1138.4,233.4 L1140.4,232.7 L1142.4,231.9 L1144.4,231.1 L1146.4,230.4 L1148.4,229.6 L1150.4,228.8 L1152.4,228.0 L1154.4,227.2 L1156.4,226.5 L1158.4,225.7 L1160.4,224.9 L1162.4,224.0 L1164.4,223.2 L1166.3,222.4 L1168.3,221.6 L1170.3,220.8 L1172.3,219.9 L1174.3,219.1 L1176.3,218.2 L1178.3,217.4 L1180.3,216.5 L1182.3,215.7 L1184.3,214.8 L1186.3,213.9 L1188.3,213.0 L1190.3,212.2 L1192.3,211.3 L1194.3,210.4 L1196.3,209.5 L1198.3,208.6 L1200.3,207.7 L1202.3,206.7 L1204.3,205.8 L1206.3,204.9 L1208.3,204.0 L1210.3,203.0 L1212.3,202.1 L1214.3,201.1 L1216.3,200.2 L1218.3,199.2 L1220.3,198.2 L1222.3,197.3 L1224.3,196.3 L1226.3,195.3 L1228.3,194.3 L1230.3,193.4 L1232.3,192.4 L1234.3,191.4 L1236.3,190.4 L1238.3,189.3 L1240.3,188.3 L1242.3,187.3 L1244.3,186.3 L1246.3,185.3 L1248.3,184.2 L1250.3,183.2 L1252.3,182.1 L1254.3,181.1 L1256.3,180.1 L1258.3,179.0 L1260.2,178.0 L1262.2,176.9 L1264.2,175.8 L1266.2,174.8 L1268.2,173.7 L1270.2,172.6 L1272.2,171.5 L1274.2,170.5 L1276.2,169.4 L1278.2,168.3 L1280.2,167.2 L1282.2,166.1 L1284.2,165.0 L1286.2,163.9 L1288.2,162.8 L1290.2,161.7 L1292.2,160.5 L1294.2,159.4 L1296.2,158.3 L1298.2,157.2 L1300.2,156.0 L1302.2,154.9 L1304.2,153.7 L1306.2,152.6 L1308.2,151.4 L1310.2,150.3 L1312.2,149.1 L1314.2,147.9 L1316.2,146.8 L1318.2,145.6 L1320.2,144.4 L1322.2,143.2 L1324.2,142.0 L1326.2,140.8 L1328.2,139.6 L1330.2,138.4 L1332.2,137.2 L1334.2,136.0 L1336.2,134.7 L1338.2,133.5 L1340.2,132.3 L1342.2,131.0 L1344.2,129.8 L1346.2,128.5 L1348.2,127.3 L1350.2,126.0 L1352.2,124.7 L1354.2,123.4 L1356.1,122.2 L1358.1,120.9 L1360.1,119.6 L1362.1,118.3 L1364.1,117.0 L1366.1,115.7 L1368.1,114.4 L1370.1,113.1 L1372.1,111.8 L1374.1,110.4 L1376.1,109.1 L1378.1,107.8 L1380.1,106.4 L1382.1,105.1 L1384.1,103.8 L1386.1,102.4 L1388.1,101.1 L1390.1,99.7 L1392.1,98.4 L1394.1,97.0 L1396.1,95.7 L1398.1,94.3 L1400.1,92.9 L1402.1,91.6 L1404.1,90.2 L1406.1,88.8 L1408.1,87.5 L1410.1,86.1 L1412.1,84.7 L1414.1,83.4 L1416.1,82.0 L1418.1,80.6 L1420.1,79.3 L1422.1,77.9 L1424.1,76.5 L1426.1,75.1 L1428.1,73.8 L1430.1,72.4 L1432.1,71.0 L1434.1,69.7 L1436.1,68.3 L1438.1,66.9 L1440.1,65.6 L1442.1,64.2 L1444.1,62.8 L1446.1,61.5 L1448.1,60.1 L1450.1,58.8 L1452.0,57.4 L1454.0,56.1 L1456.0,54.7 L1458.0,53.4 L1460.0,52.0 L1462.0,50.7 L1464.0,49.3 L1466.0,48.0 L1468.0,46.7 L1470.0,45.4 L1472.0,44.0 L1474.0,42.7 L1476.0,41.4 L1478.0,40.1 L1480.0,38.8 L1482.0,37.5 L1484.0,36.2 L1486.0,34.9 L1488.0,33.6 L1490.0,32.3 L1492.0,31.0 L1494.0,29.8 L1496.0,28.5 L1498.0,27.2 L1498.6,357.3 L1496.6,357.0 L1494.6,356.8 L1492.6,356.5 L1490.6,356.2 L1488.6,355.9 L1486.6,355.7 L1484.7,355.4 L1482.7,355.1 L1480.7,354.8 L1478.7,354.5 L1476.7,354.3 L1474.7,354.0 L1472.7,353.7 L1470.7,353.4 L1468.7,353.1 L1466.7,352.8 L1464.7,352.5 L1462.7,352.2 L1460.8,352.0 L1458.8,351.7 L1456.8,351.4 L1454.8,351.1 L1452.8,350.8 L1450.8,350.5 L1448.8,350.2 L1446.8,349.9 L1444.8,349.6 L1442.8,349.3 L1440.8,349.0 L1438.8,348.7 L1436.8,348.4 L1434.9,348.1 L1432.9,347.8 L1430.9,347.4 L1428.9,347.1 L1426.9,346.8 L1424.9,346.5 L1422.9,346.2 L1420.9,345.9 L1418.9,345.6 L1416.9,345.3 L1414.9,344.9 L1412.9,344.6 L1410.9,344.3 L1409.0,344.0 L1407.0,343.7 L1405.0,343.3 L1403.0,343.0 L1401.0,342.7 L1399.0,342.4 L1397.0,342.0 L1395.0,341.7 L1393.0,341.4 L1391.0,341.0 L1389.0,340.7 L1387.0,340.4 L1385.1,340.0 L1383.1,339.7 L1381.1,339.4 L1379.1,339.0 L1377.1,338.7 L1375.1,338.4 L1373.1,338.0 L1371.1,337.7 L1369.1,337.4 L1367.1,337.0 L1365.1,336.7 L1363.1,336.3 L1361.1,336.0 L1359.2,335.6 L1357.2,335.3 L1355.2,334.9 L1353.2,334.6 L1351.2,334.3 L1349.2,333.9 L1347.2,333.6 L1345.2,333.2 L1343.2,332.9 L1341.2,332.5 L1339.2,332.1 L1337.2,331.8 L1335.3,331.4 L1333.3,331.1 L1331.3,330.7 L1329.3,330.4 L1327.3,330.0 L1325.3,329.7 L1323.3,329.3 L1321.3,328.9 L1319.3,328.6 L1317.3,328.2 L1315.3,327.9 L1313.3,327.5 L1311.3,327.1 L1309.4,326.8 L1307.4,326.4 L1305.4,326.1 L1303.4,325.7 L1301.4,325.3 L1299.4,325.0 L1297.4,324.6 L1295.4,324.2 L1293.4,323.9 L1291.4,323.5 L1289.4,323.2 L1287.4,322.8 L1285.5,322.4 L1283.5,322.1 L1281.5,321.7 L1279.5,321.3 L1277.5,321.0 L1275.5,320.6 L1273.5,320.2 L1271.5,319.9 L1269.5,319.5 L1267.5,319.1 L1265.5,318.8 L1263.5,318.4 L1261.5,318.0 L1259.6,317.7 L1257.6,317.3 L1255.6,316.9 L1253.6,316.6 L1251.6,316.2 L1249.6,315.8 L1247.6,315.5 L1245.6,315.1 L1243.6,314.7 L1241.6,314.4 L1239.6,314.0 L1237.6,313.6 L1235.6,313.3 L1233.7,312.9 L1231.7,312.6 L1229.7,312.2 L1227.7,311.8 L1225.7,311.5 L1223.7,311.1 L1221.7,310.7 L1219.7,310.4 L1217.7,310.0 L1215.7,309.6 L1213.7,309.3 L1211.7,308.9 L1209.8,308.6 L1207.8,308.2 L1205.8,307.8 L1203.8,307.5 L1201.8,307.1 L1199.8,306.8 L1197.8,306.4 L1195.8,306.0 L1193.8,305.7 L1191.8,305.3 L1189.8,305.0 L1187.8,304.6 L1185.8,304.2 L1183.9,303.9 L1181.9,303.5 L1179.9,303.2 L1177.9,302.8 L1175.9,302.5 L1173.9,302.1 L1171.9,301.7 L1169.9,301.4 L1167.9,301.0 L1165.9,300.7 L1163.9,300.3 L1161.9,300.0 L1160.0,299.6 L1158.0,299.3 L1156.0,298.9 L1154.0,298.5 L1152.0,298.2 L1150.0,297.8 L1148.0,297.5 L1146.0,297.1 L1144.0,296.8 L1142.0,296.4 L1140.0,296.1 L1138.0,295.7 L1136.0,295.4 L1134.1,295.0 L1132.1,294.7 L1130.1,294.3 L1128.1,293.9 L1126.1,293.6 L1124.1,293.2 L1122.1,292.9 L1120.1,292.5 L1118.1,292.2 L1116.1,291.8 L1114.1,291.4 L1112.1,291.1 L1110.2,290.7 L1108.2,290.3 L1106.2,290.0 L1104.2,289.6 L1102.2,289.2 L1100.2,288.8 L1098.2,288.5 L1096.2,288.1 L1094.2,287.7 L1092.2,287.3 L1090.2,286.8 L1088.2,286.4 L1086.2,286.0 L1084.3,285.6 L1082.3,285.1 L1080.3,284.7 L1078.3,284.2 L1076.3,283.7 L1074.3,283.2 L1072.3,282.7 L1070.3,282.2 L1068.3,281.7 L1066.3,281.1 L1064.3,280.5 L1062.3,279.9 L1060.3,279.3 L1058.4,278.6 L1056.4,277.9 L1054.4,277.2 L1052.4,276.5 L1050.4,275.7 L1048.4,274.9 L1046.4,274.1 L1044.4,273.3 L1042.4,272.4 L1040.4,271.5 L1038.4,270.5 L1036.4,269.6 L1034.5,268.6 L1032.5,267.6 L1030.5,266.6 L1028.5,265.5 L1026.5,264.5 L1024.5,263.4 L1022.5,262.2 L1020.5,262.9 L1018.6,263.7 L1016.6,264.4 L1014.6,265.1 L1012.6,265.8 L1010.7,266.5 L1008.7,267.2 L1006.7,267.9 L1004.8,268.6 L1002.8,269.3 L1000.8,270.0 L998.9,270.7 L996.9,271.4 L994.9,272.1 L992.9,272.7 L991.0,273.4 L989.0,274.0 L987.0,274.7 L985.1,275.3 L983.1,275.9 L981.1,276.6 L979.1,277.2 L977.2,277.8 L975.2,278.4 L973.2,279.0 L971.3,279.5 L969.3,280.1 L967.3,280.7 L965.4,281.2 L963.4,281.8 L961.4,282.3 L959.4,282.8 L957.5,283.3 L955.5,283.8 L953.5,284.3 L951.6,284.8 L949.6,285.3 L947.6,285.8 L945.6,286.3 L943.7,286.7 L941.7,287.2 L939.7,287.6 L937.8,288.1 L935.8,288.5 L933.8,288.9 L931.9,289.3 L929.9,289.8 L927.9,290.2 L925.9,290.6 L924.0,291.0 L922.0,291.3 Z" fill="#FDE1E3"/>
<line x1="892.9" y1="262.3" x2="1527.0" y2="262.3" stroke="#000" stroke-width="3.3" stroke-dasharray="13.8 13.8"/>
<line x1="1022.5" y1="374.2" x2="1022.5" y2="10.0" stroke="#000" stroke-width="2.3" stroke-dasharray="9.2 9.2"/>
<path d="M921.5,212.6 L923.5,213.6 L925.5,214.7 L927.5,215.7 L929.5,216.8 L931.5,217.8 L933.5,218.9 L935.5,220.0 L937.5,221.2 L939.5,222.3 L941.5,223.4 L943.5,224.6 L945.5,225.7 L947.5,226.9 L949.5,228.1 L951.5,229.2 L953.5,230.4 L955.4,231.6 L957.4,232.8 L959.4,233.9 L961.4,235.1 L963.4,236.3 L965.4,237.5 L967.4,238.6 L969.4,239.8 L971.4,240.9 L973.4,242.0 L975.4,243.1 L977.4,244.2 L979.4,245.3 L981.4,246.4 L983.4,247.4 L985.4,248.5 L987.4,249.4 L989.4,250.4 L991.4,251.4 L993.4,252.3 L995.4,253.2 L997.4,254.0 L999.4,254.9 L1001.4,255.7 L1003.4,256.4 L1005.4,257.2 L1007.4,257.9 L1009.4,258.6 L1011.4,259.2 L1013.4,259.8 L1015.4,260.4 L1017.4,261.0 L1019.3,261.5 L1021.3,262.1 L1023.3,262.6 L1025.3,263.1 L1027.3,263.6 L1029.3,264.0 L1031.3,264.5 L1033.3,264.9 L1035.3,265.3 L1037.3,265.7 L1039.3,266.0 L1041.3,266.4 L1043.3,266.7 L1045.3,267.0 L1047.3,267.2 L1049.3,267.5 L1051.3,267.7 L1053.3,267.9 L1055.3,268.0 L1057.3,268.2 L1059.3,268.3 L1061.3,268.4 L1063.3,268.5 L1065.3,268.6 L1067.3,268.7 L1069.3,268.7 L1071.3,268.7 L1073.3,268.8 L1075.3,268.8 L1077.3,268.7 L1079.3,268.7 L1081.3,268.7 L1083.2,268.7 L1085.2,268.6 L1087.2,268.6 L1089.2,268.5 L1091.2,268.4 L1093.2,268.3 L1095.2,268.2 L1097.2,268.2 L1099.2,268.1 L1101.2,268.0 L1103.2,267.9 L1105.2,267.7 L1107.2,267.6 L1109.2,267.5 L1111.2,267.4 L1113.2,267.3 L1115.2,267.2 L1117.2,267.0 L1119.2,266.9 L1121.2,266.8 L1123.2,266.6 L1125.2,266.5 L1127.2,266.4 L1129.2,266.2 L1131.2,266.1 L1133.2,265.9 L1135.2,265.8 L1137.2,265.7 L1139.2,265.5 L1141.2,265.4 L1143.2,265.2 L1145.2,265.1 L1147.1,264.9 L1149.1,264.8 L1151.1,264.6 L1153.1,264.5 L1155.1,264.3 L1157.1,264.2 L1159.1,264.0 L1161.1,263.9 L1163.1,263.7 L1165.1,263.6 L1167.1,263.4 L1169.1,263.3 L1171.1,263.1 L1173.1,263.0 L1175.1,262.8 L1177.1,262.6 L1179.1,262.5 L1181.1,262.3 L1183.1,262.2 L1185.1,262.0 L1187.1,261.8 L1189.1,261.7 L1191.1,261.5 L1193.1,261.3 L1195.1,261.2 L1197.1,261.0 L1199.1,260.8 L1201.1,260.7 L1203.1,260.5 L1205.1,260.3 L1207.1,260.1 L1209.1,260.0 L1211.0,259.8 L1213.0,259.6 L1215.0,259.5 L1217.0,259.3 L1219.0,259.1 L1221.0,258.9 L1223.0,258.7 L1225.0,258.6 L1227.0,258.4 L1229.0,258.2 L1231.0,258.0 L1233.0,257.8 L1235.0,257.7 L1237.0,257.5 L1239.0,257.3 L1241.0,257.1 L1243.0,256.9 L1245.0,256.7 L1247.0,256.6 L1249.0,256.4 L1251.0,256.2 L1253.0,256.0 L1255.0,255.8 L1257.0,255.6 L1259.0,255.4 L1261.0,255.3 L1263.0,255.1 L1265.0,254.9 L1267.0,254.7 L1269.0,254.5 L1271.0,254.3 L1273.0,254.1 L1274.9,254.0 L1276.9,253.8 L1278.9,253.6 L1280.9,253.4 L1282.9,253.2 L1284.9,253.0 L1286.9,252.8 L1288.9,252.6 L1290.9,252.5 L1292.9,252.3 L1294.9,252.1 L1296.9,251.9 L1298.9,251.7 L1300.9,251.5 L1302.9,251.4 L1304.9,251.2 L1306.9,251.0 L1308.9,250.8 L1310.9,250.6 L1312.9,250.4 L1314.9,250.2 L1316.9,250.1 L1318.9,249.9 L1320.9,249.7 L1322.9,249.5 L1324.9,249.3 L1326.9,249.2 L1328.9,249.0 L1330.9,248.8 L1332.9,248.6 L1334.9,248.4 L1336.9,248.3 L1338.8,248.1 L1340.8,247.9 L1342.8,247.7 L1344.8,247.5 L1346.8,247.4 L1348.8,247.2 L1350.8,247.0 L1352.8,246.8 L1354.8,246.7 L1356.8,246.5 L1358.8,246.3 L1360.8,246.1 L1362.8,246.0 L1364.8,245.8 L1366.8,245.6 L1368.8,245.5 L1370.8,245.3 L1372.8,245.1 L1374.8,244.9 L1376.8,244.8 L1378.8,244.6 L1380.8,244.4 L1382.8,244.3 L1384.8,244.1 L1386.8,243.9 L1388.8,243.8 L1390.8,243.6 L1392.8,243.4 L1394.8,243.3 L1396.8,243.1 L1398.8,242.9 L1400.8,242.8 L1402.7,242.6 L1404.7,242.5 L1406.7,242.3 L1408.7,242.1 L1410.7,242.0 L1412.7,241.8 L1414.7,241.7 L1416.7,241.5 L1418.7,241.3 L1420.7,241.2 L1422.7,241.0 L1424.7,240.9 L1426.7,240.7 L1428.7,240.6 L1430.7,240.4 L1432.7,240.3 L1434.7,240.1 L1436.7,240.0 L1438.7,239.8 L1440.7,239.7 L1442.7,239.5 L1444.7,239.4 L1446.7,239.2 L1448.7,239.1 L1450.7,238.9 L1452.7,238.8 L1454.7,238.6 L1456.7,238.5 L1458.7,238.3 L1460.7,238.2 L1462.7,238.0 L1464.7,237.9 L1466.6,237.7 L1468.6,237.6 L1470.6,237.5 L1472.6,237.3 L1474.6,237.2 L1476.6,237.0 L1478.6,236.9 L1480.6,236.8 L1482.6,236.6 L1484.6,236.5 L1486.6,236.3 L1488.6,236.2 L1490.6,236.1 L1492.6,235.9 L1494.6,235.8 L1496.6,235.7 L1498.6,235.5" fill="none" stroke="#EF3A3E" stroke-width="4.2" stroke-linejoin="round" stroke-linecap="butt"/>
<path d="M892.9,10.0 V374.2 H1527.0" fill="none" stroke="#000" stroke-width="2.4" stroke-linejoin="round"/>
<line x1="913.5" y1="374.2" x2="913.5" y2="377.2" stroke="#333" stroke-width="1.4"/>
<text x="913.5" y="389.0" text-anchor="middle" font-family="'Liberation Sans', Arial, sans-serif" font-size="13" fill="#333333" stroke="#333333" stroke-width="0.2">0</text>
<line x1="1027.9" y1="374.2" x2="1027.9" y2="377.2" stroke="#333" stroke-width="1.4"/>
<text x="1027.9" y="389.0" text-anchor="middle" font-family="'Liberation Sans', Arial, sans-serif" font-size="13" fill="#333333" stroke="#333333" stroke-width="0.2">10</text>
<line x1="1142.5" y1="374.2" x2="1142.5" y2="377.2" stroke="#333" stroke-width="1.4"/>
<text x="1142.5" y="389.0" text-anchor="middle" font-family="'Liberation Sans', Arial, sans-serif" font-size="13" fill="#333333" stroke="#333333" stroke-width="0.2">20</text>
<line x1="1256.8" y1="374.2" x2="1256.8" y2="377.2" stroke="#333" stroke-width="1.4"/>
<text x="1256.8" y="389.0" text-anchor="middle" font-family="'Liberation Sans', Arial, sans-serif" font-size="13" fill="#333333" stroke="#333333" stroke-width="0.2">30</text>
<line x1="1371.2" y1="374.2" x2="1371.2" y2="377.2" stroke="#333" stroke-width="1.4"/>
<text x="1371.2" y="389.0" text-anchor="middle" font-family="'Liberation Sans', Arial, sans-serif" font-size="13" fill="#333333" stroke="#333333" stroke-width="0.2">40</text>
<line x1="1485.3" y1="374.2" x2="1485.3" y2="377.2" stroke="#333" stroke-width="1.4"/>
<text x="1485.3" y="389.0" text-anchor="middle" font-family="'Liberation Sans', Arial, sans-serif" font-size="13" fill="#333333" stroke="#333333" stroke-width="0.2">50</text>
<line x1="889.9" y1="128.6" x2="892.9" y2="128.6" stroke="#333" stroke-width="1.4"/>
<text x="887.4" y="132.3" text-anchor="end" font-family="'Liberation Sans', Arial, sans-serif" font-size="13" fill="#333333" stroke="#333333" stroke-width="0.2">1.5</text>
<line x1="889.9" y1="262.3" x2="892.9" y2="262.3" stroke="#333" stroke-width="1.4"/>
<text x="887.4" y="266.0" text-anchor="end" font-family="'Liberation Sans', Arial, sans-serif" font-size="13" fill="#333333" stroke="#333333" stroke-width="0.2">1.0</text>
<text x="1211.9" y="400.4" text-anchor="middle" font-family="'Liberation Serif', 'Times New Roman', serif" font-size="15.2" fill="#000" stroke="#000" stroke-width="0.25">Zinc intake (mg/day)</text>
<text transform="translate(868.0,201.5) rotate(-90)" text-anchor="middle" font-family="'Liberation Serif', 'Times New Roman', serif" font-size="15.2" fill="#000" stroke="#000" stroke-width="0.25">Predicted probability of advanced CKM</text>
<text x="1252.3" y="76.3" font-family="'Liberation Serif', 'Times New Roman', serif" font-size="15" fill="#000" stroke="#000" stroke-width="0.25">P for non-linearity = 0.249</text>
<text transform="translate(803.2,25.6) scale(1,1.075)" font-family="'Liberation Serif', 'Times New Roman', serif" font-size="26.3" fill="#000">D</text>
</g>
<g>
<path d="M922.0,510.6 L924.0,512.8 L925.9,515.0 L927.9,517.3 L929.9,519.6 L931.8,522.0 L933.8,524.3 L935.8,526.7 L937.7,529.1 L939.7,531.6 L941.7,534.0 L943.6,536.5 L945.6,539.0 L947.6,541.5 L949.5,544.0 L951.5,546.6 L953.5,549.1 L955.4,551.7 L957.4,554.2 L959.4,556.8 L961.3,559.3 L963.3,561.9 L965.3,564.4 L967.2,567.0 L969.2,569.5 L971.2,572.1 L973.1,574.6 L975.1,577.1 L977.1,579.6 L979.0,582.1 L981.0,584.6 L983.0,587.1 L984.9,589.5 L986.9,591.9 L988.9,594.3 L990.8,596.7 L992.8,599.0 L994.8,601.3 L996.7,603.6 L998.7,605.8 L1000.7,608.0 L1002.6,610.2 L1004.6,612.2 L1006.6,614.3 L1008.5,616.3 L1010.5,618.2 L1012.5,620.0 L1014.4,621.8 L1016.4,623.5 L1018.4,625.1 L1020.3,626.7 L1022.3,628.3 L1024.3,629.8 L1026.2,631.4 L1028.2,632.9 L1030.2,632.6 L1032.2,632.4 L1034.2,632.2 L1036.2,631.9 L1038.2,631.7 L1040.2,631.5 L1042.2,631.3 L1044.2,631.0 L1046.2,630.8 L1048.2,630.6 L1050.2,630.3 L1052.2,630.1 L1054.2,629.8 L1056.2,629.5 L1058.2,629.3 L1060.2,629.0 L1062.2,628.7 L1064.2,628.4 L1066.2,628.2 L1068.2,627.9 L1070.2,627.5 L1072.2,627.2 L1074.2,626.9 L1076.2,626.6 L1078.2,626.2 L1080.2,625.9 L1082.2,625.5 L1084.2,625.1 L1086.2,624.7 L1088.2,624.3 L1090.2,623.9 L1092.2,623.4 L1094.2,623.0 L1096.2,622.5 L1098.2,622.0 L1100.2,621.6 L1102.2,621.1 L1104.2,620.6 L1106.2,620.0 L1108.2,619.5 L1110.2,619.0 L1112.2,618.4 L1114.2,617.9 L1116.2,617.3 L1118.2,616.7 L1120.2,616.1 L1122.2,615.5 L1124.2,614.9 L1126.2,614.3 L1128.2,613.7 L1130.2,613.1 L1132.2,612.4 L1134.2,611.8 L1136.2,611.2 L1138.2,610.5 L1140.2,609.9 L1142.2,609.2 L1144.2,608.5 L1146.2,607.8 L1148.2,607.2 L1150.2,606.5 L1152.2,605.8 L1154.2,605.1 L1156.2,604.4 L1158.2,603.7 L1160.2,603.0 L1162.2,602.3 L1164.2,601.6 L1166.2,600.9 L1168.2,600.2 L1170.2,599.4 L1172.2,598.7 L1174.2,598.0 L1176.2,597.3 L1178.2,596.5 L1180.2,595.8 L1182.2,595.1 L1184.2,594.4 L1186.2,593.6 L1188.2,592.9 L1190.2,592.2 L1192.2,591.5 L1194.2,590.8 L1196.2,590.0 L1198.2,589.3 L1200.2,588.6 L1202.2,587.9 L1204.2,587.2 L1206.2,586.4 L1208.2,585.7 L1210.2,585.0 L1212.2,584.3 L1214.2,583.6 L1216.2,582.9 L1218.2,582.2 L1220.2,581.5 L1222.2,580.8 L1224.2,580.1 L1226.2,579.4 L1228.2,578.7 L1230.2,578.0 L1232.2,577.3 L1234.2,576.6 L1236.2,575.9 L1238.2,575.2 L1240.2,574.5 L1242.2,573.8 L1244.2,573.1 L1246.2,572.4 L1248.2,571.7 L1250.2,571.0 L1252.2,570.3 L1254.2,569.6 L1256.2,568.9 L1258.2,568.2 L1260.2,567.5 L1262.2,566.8 L1264.1,566.1 L1266.1,565.3 L1268.1,564.6 L1270.1,563.9 L1272.1,563.2 L1274.1,562.4 L1276.1,561.7 L1278.1,561.0 L1280.1,560.2 L1282.1,559.5 L1284.1,558.7 L1286.1,558.0 L1288.1,557.2 L1290.1,556.5 L1292.1,555.7 L1294.1,554.9 L1296.1,554.2 L1298.1,553.4 L1300.1,552.6 L1302.1,551.8 L1304.1,551.0 L1306.1,550.2 L1308.1,549.4 L1310.1,548.6 L1312.1,547.8 L1314.1,547.0 L1316.1,546.1 L1318.1,545.3 L1320.1,544.5 L1322.1,543.6 L1324.1,542.8 L1326.1,542.0 L1328.1,541.1 L1330.1,540.2 L1332.1,539.4 L1334.1,538.5 L1336.1,537.6 L1338.1,536.8 L1340.1,535.9 L1342.1,535.0 L1344.1,534.1 L1346.1,533.2 L1348.1,532.3 L1350.1,531.4 L1352.1,530.5 L1354.1,529.6 L1356.1,528.7 L1358.1,527.7 L1360.1,526.8 L1362.1,525.9 L1364.1,525.0 L1366.1,524.0 L1368.1,523.1 L1370.1,522.1 L1372.1,521.2 L1374.1,520.2 L1376.1,519.3 L1378.1,518.3 L1380.1,517.3 L1382.1,516.4 L1384.1,515.4 L1386.1,514.4 L1388.1,513.4 L1390.1,512.4 L1392.1,511.5 L1394.1,510.5 L1396.1,509.5 L1398.1,508.5 L1400.1,507.5 L1402.1,506.5 L1404.1,505.5 L1406.1,504.5 L1408.1,503.5 L1410.1,502.5 L1412.1,501.5 L1414.1,500.5 L1416.1,499.4 L1418.1,498.4 L1420.1,497.4 L1422.1,496.4 L1424.1,495.4 L1426.1,494.4 L1428.1,493.3 L1430.1,492.3 L1432.1,491.3 L1434.1,490.3 L1436.1,489.3 L1438.1,488.2 L1440.1,487.2 L1442.1,486.2 L1444.1,485.2 L1446.1,484.2 L1448.1,483.1 L1450.1,482.1 L1452.1,481.1 L1454.1,480.1 L1456.1,479.1 L1458.1,478.1 L1460.1,477.0 L1462.1,476.0 L1464.1,475.0 L1466.1,474.0 L1468.1,473.0 L1470.1,472.0 L1472.1,471.0 L1474.1,470.0 L1476.1,469.0 L1478.1,468.0 L1480.1,467.1 L1482.1,466.1 L1484.1,465.1 L1486.1,464.1 L1488.1,463.1 L1490.1,462.2 L1492.1,461.2 L1494.1,460.2 L1496.1,459.3 L1498.1,458.3 L1498.1,787.6 L1496.1,787.3 L1494.1,786.9 L1492.1,786.5 L1490.1,786.2 L1488.1,785.8 L1486.1,785.4 L1484.1,785.0 L1482.1,784.7 L1480.1,784.3 L1478.1,783.9 L1476.1,783.5 L1474.1,783.2 L1472.1,782.8 L1470.1,782.4 L1468.1,782.0 L1466.1,781.6 L1464.1,781.2 L1462.1,780.8 L1460.1,780.4 L1458.1,780.0 L1456.1,779.6 L1454.1,779.2 L1452.1,778.8 L1450.1,778.4 L1448.1,778.0 L1446.1,777.6 L1444.1,777.2 L1442.1,776.8 L1440.1,776.4 L1438.1,776.0 L1436.1,775.6 L1434.1,775.2 L1432.1,774.7 L1430.1,774.3 L1428.1,773.9 L1426.1,773.5 L1424.1,773.1 L1422.1,772.6 L1420.1,772.2 L1418.1,771.8 L1416.1,771.3 L1414.1,770.9 L1412.1,770.5 L1410.1,770.0 L1408.1,769.6 L1406.1,769.1 L1404.1,768.7 L1402.1,768.2 L1400.1,767.8 L1398.1,767.3 L1396.1,766.9 L1394.1,766.4 L1392.1,766.0 L1390.1,765.5 L1388.1,765.1 L1386.1,764.6 L1384.1,764.1 L1382.1,763.7 L1380.1,763.2 L1378.1,762.7 L1376.1,762.2 L1374.1,761.8 L1372.1,761.3 L1370.1,760.8 L1368.1,760.3 L1366.1,759.8 L1364.1,759.3 L1362.1,758.9 L1360.1,758.4 L1358.1,757.9 L1356.1,757.4 L1354.1,756.9 L1352.1,756.4 L1350.1,755.9 L1348.1,755.4 L1346.1,754.8 L1344.1,754.3 L1342.1,753.8 L1340.1,753.3 L1338.1,752.8 L1336.1,752.3 L1334.1,751.7 L1332.1,751.2 L1330.1,750.7 L1328.1,750.2 L1326.1,749.6 L1324.1,749.1 L1322.1,748.5 L1320.1,748.0 L1318.1,747.5 L1316.1,746.9 L1314.1,746.4 L1312.1,745.8 L1310.1,745.3 L1308.1,744.7 L1306.1,744.1 L1304.1,743.6 L1302.1,743.0 L1300.1,742.4 L1298.1,741.9 L1296.1,741.3 L1294.1,740.7 L1292.1,740.1 L1290.1,739.6 L1288.1,739.0 L1286.1,738.4 L1284.1,737.8 L1282.1,737.2 L1280.1,736.6 L1278.1,736.0 L1276.1,735.4 L1274.1,734.8 L1272.1,734.2 L1270.1,733.6 L1268.1,733.0 L1266.1,732.3 L1264.1,731.7 L1262.2,731.1 L1260.2,730.5 L1258.2,729.8 L1256.2,729.2 L1254.2,728.6 L1252.2,727.9 L1250.2,727.3 L1248.2,726.6 L1246.2,726.0 L1244.2,725.3 L1242.2,724.7 L1240.2,724.0 L1238.2,723.4 L1236.2,722.7 L1234.2,722.0 L1232.2,721.3 L1230.2,720.7 L1228.2,720.0 L1226.2,719.3 L1224.2,718.6 L1222.2,717.9 L1220.2,717.2 L1218.2,716.5 L1216.2,715.8 L1214.2,715.1 L1212.2,714.4 L1210.2,713.7 L1208.2,713.0 L1206.2,712.3 L1204.2,711.5 L1202.2,710.8 L1200.2,710.1 L1198.2,709.3 L1196.2,708.6 L1194.2,707.9 L1192.2,707.1 L1190.2,706.4 L1188.2,705.6 L1186.2,704.8 L1184.2,704.1 L1182.2,703.3 L1180.2,702.5 L1178.2,701.8 L1176.2,701.0 L1174.2,700.2 L1172.2,699.4 L1170.2,698.6 L1168.2,697.8 L1166.2,697.0 L1164.2,696.2 L1162.2,695.4 L1160.2,694.6 L1158.2,693.7 L1156.2,692.9 L1154.2,692.1 L1152.2,691.3 L1150.2,690.4 L1148.2,689.6 L1146.2,688.7 L1144.2,687.9 L1142.2,687.0 L1140.2,686.2 L1138.2,685.3 L1136.2,684.4 L1134.2,683.6 L1132.2,682.7 L1130.2,681.8 L1128.2,680.9 L1126.2,680.0 L1124.2,679.1 L1122.2,678.2 L1120.2,677.3 L1118.2,676.4 L1116.2,675.5 L1114.2,674.6 L1112.2,673.7 L1110.2,672.8 L1108.2,671.8 L1106.2,670.9 L1104.2,670.0 L1102.2,669.0 L1100.2,668.1 L1098.2,667.1 L1096.2,666.2 L1094.2,665.2 L1092.2,664.3 L1090.2,663.3 L1088.2,662.4 L1086.2,661.4 L1084.2,660.4 L1082.2,659.5 L1080.2,658.5 L1078.2,657.5 L1076.2,656.5 L1074.2,655.5 L1072.2,654.6 L1070.2,653.6 L1068.2,652.6 L1066.2,651.6 L1064.2,650.6 L1062.2,649.6 L1060.2,648.6 L1058.2,647.6 L1056.2,646.6 L1054.2,645.6 L1052.2,644.6 L1050.2,643.7 L1048.2,642.7 L1046.2,641.7 L1044.2,640.7 L1042.2,639.7 L1040.2,638.7 L1038.2,637.7 L1036.2,636.7 L1034.2,635.7 L1032.2,634.7 L1030.2,633.7 L1028.2,632.7 L1026.2,633.6 L1024.3,634.4 L1022.3,635.3 L1020.3,636.1 L1018.4,636.9 L1016.4,637.8 L1014.4,638.6 L1012.5,639.5 L1010.5,640.3 L1008.5,641.2 L1006.6,642.0 L1004.6,642.9 L1002.6,643.7 L1000.7,644.6 L998.7,645.5 L996.7,646.3 L994.8,647.2 L992.8,648.0 L990.8,648.9 L988.9,649.7 L986.9,650.6 L984.9,651.4 L983.0,652.3 L981.0,653.1 L979.0,653.9 L977.1,654.8 L975.1,655.6 L973.1,656.4 L971.2,657.3 L969.2,658.1 L967.2,658.9 L965.3,659.7 L963.3,660.5 L961.3,661.2 L959.4,662.0 L957.4,662.8 L955.4,663.5 L953.5,664.3 L951.5,665.0 L949.5,665.8 L947.6,666.5 L945.6,667.2 L943.6,667.9 L941.7,668.6 L939.7,669.3 L937.7,670.0 L935.8,670.7 L933.8,671.3 L931.8,672.0 L929.9,672.6 L927.9,673.3 L925.9,673.9 L924.0,674.5 L922.0,675.1 Z" fill="#FDE1E3"/>
<line x1="892.9" y1="632.8" x2="1527.0" y2="632.8" stroke="#000" stroke-width="3.3" stroke-dasharray="13.8 13.8"/>
<line x1="1028.2" y1="805.6" x2="1028.2" y2="441.8" stroke="#000" stroke-width="2.3" stroke-dasharray="9.2 9.2"/>
<path d="M922.0,605.5 L924.0,606.1 L926.0,606.6 L928.0,607.1 L930.0,607.7 L932.0,608.3 L934.0,608.8 L936.0,609.4 L938.0,610.0 L939.9,610.6 L941.9,611.2 L943.9,611.7 L945.9,612.3 L947.9,612.9 L949.9,613.5 L951.9,614.1 L953.9,614.7 L955.9,615.3 L957.9,615.9 L959.9,616.5 L961.9,617.1 L963.9,617.7 L965.9,618.3 L967.9,618.9 L969.9,619.5 L971.9,620.1 L973.8,620.6 L975.8,621.2 L977.8,621.8 L979.8,622.3 L981.8,622.9 L983.8,623.4 L985.8,624.0 L987.8,624.5 L989.8,625.0 L991.8,625.5 L993.8,626.0 L995.8,626.5 L997.8,627.0 L999.8,627.4 L1001.8,627.9 L1003.8,628.3 L1005.8,628.7 L1007.7,629.1 L1009.7,629.5 L1011.7,629.9 L1013.7,630.3 L1015.7,630.7 L1017.7,631.0 L1019.7,631.4 L1021.7,631.7 L1023.7,632.0 L1025.7,632.4 L1027.7,632.7 L1029.7,633.1 L1031.7,633.4 L1033.7,633.8 L1035.7,634.1 L1037.7,634.5 L1039.7,634.8 L1041.6,635.2 L1043.6,635.6 L1045.6,635.9 L1047.6,636.3 L1049.6,636.6 L1051.6,637.0 L1053.6,637.4 L1055.6,637.7 L1057.6,638.1 L1059.6,638.5 L1061.6,638.8 L1063.6,639.2 L1065.6,639.5 L1067.6,639.9 L1069.6,640.3 L1071.6,640.6 L1073.6,641.0 L1075.5,641.3 L1077.5,641.7 L1079.5,642.0 L1081.5,642.4 L1083.5,642.7 L1085.5,643.0 L1087.5,643.4 L1089.5,643.7 L1091.5,644.0 L1093.5,644.4 L1095.5,644.7 L1097.5,645.0 L1099.5,645.3 L1101.5,645.7 L1103.5,646.0 L1105.5,646.3 L1107.5,646.6 L1109.4,646.9 L1111.4,647.2 L1113.4,647.5 L1115.4,647.8 L1117.4,648.1 L1119.4,648.4 L1121.4,648.8 L1123.4,649.1 L1125.4,649.4 L1127.4,649.7 L1129.4,650.0 L1131.4,650.2 L1133.4,650.5 L1135.4,650.8 L1137.4,651.1 L1139.4,651.4 L1141.4,651.7 L1143.3,652.0 L1145.3,652.3 L1147.3,652.6 L1149.3,652.9 L1151.3,653.1 L1153.3,653.4 L1155.3,653.7 L1157.3,654.0 L1159.3,654.2 L1161.3,654.5 L1163.3,654.8 L1165.3,655.0 L1167.3,655.3 L1169.3,655.6 L1171.3,655.8 L1173.3,656.1 L1175.3,656.3 L1177.2,656.6 L1179.2,656.8 L1181.2,657.1 L1183.2,657.3 L1185.2,657.6 L1187.2,657.8 L1189.2,658.1 L1191.2,658.3 L1193.2,658.6 L1195.2,658.8 L1197.2,659.0 L1199.2,659.3 L1201.2,659.5 L1203.2,659.7 L1205.2,659.9 L1207.2,660.2 L1209.2,660.4 L1211.1,660.6 L1213.1,660.8 L1215.1,661.1 L1217.1,661.3 L1219.1,661.5 L1221.1,661.7 L1223.1,661.9 L1225.1,662.1 L1227.1,662.3 L1229.1,662.5 L1231.1,662.7 L1233.1,662.9 L1235.1,663.2 L1237.1,663.4 L1239.1,663.6 L1241.1,663.8 L1243.1,664.0 L1245.0,664.1 L1247.0,664.3 L1249.0,664.5 L1251.0,664.7 L1253.0,664.9 L1255.0,665.1 L1257.0,665.3 L1259.0,665.5 L1261.0,665.7 L1263.0,665.9 L1265.0,666.1 L1267.0,666.3 L1269.0,666.4 L1271.0,666.6 L1273.0,666.8 L1275.0,667.0 L1277.0,667.2 L1278.9,667.4 L1280.9,667.6 L1282.9,667.7 L1284.9,667.9 L1286.9,668.1 L1288.9,668.3 L1290.9,668.5 L1292.9,668.7 L1294.9,668.9 L1296.9,669.0 L1298.9,669.2 L1300.9,669.4 L1302.9,669.6 L1304.9,669.8 L1306.9,670.0 L1308.9,670.2 L1310.9,670.3 L1312.8,670.5 L1314.8,670.7 L1316.8,670.9 L1318.8,671.1 L1320.8,671.3 L1322.8,671.5 L1324.8,671.7 L1326.8,671.9 L1328.8,672.0 L1330.8,672.2 L1332.8,672.4 L1334.8,672.6 L1336.8,672.8 L1338.8,673.0 L1340.8,673.2 L1342.8,673.4 L1344.8,673.6 L1346.7,673.8 L1348.7,674.0 L1350.7,674.2 L1352.7,674.4 L1354.7,674.6 L1356.7,674.8 L1358.7,675.0 L1360.7,675.2 L1362.7,675.4 L1364.7,675.6 L1366.7,675.8 L1368.7,676.0 L1370.7,676.2 L1372.7,676.4 L1374.7,676.6 L1376.7,676.8 L1378.7,677.0 L1380.6,677.2 L1382.6,677.4 L1384.6,677.6 L1386.6,677.8 L1388.6,678.0 L1390.6,678.2 L1392.6,678.4 L1394.6,678.6 L1396.6,678.8 L1398.6,679.0 L1400.6,679.2 L1402.6,679.4 L1404.6,679.6 L1406.6,679.8 L1408.6,680.0 L1410.6,680.3 L1412.6,680.5 L1414.5,680.7 L1416.5,680.9 L1418.5,681.1 L1420.5,681.3 L1422.5,681.5 L1424.5,681.7 L1426.5,681.9 L1428.5,682.1 L1430.5,682.3 L1432.5,682.5 L1434.5,682.7 L1436.5,682.9 L1438.5,683.1 L1440.5,683.3 L1442.5,683.5 L1444.5,683.7 L1446.5,683.9 L1448.4,684.1 L1450.4,684.3 L1452.4,684.5 L1454.4,684.7 L1456.4,685.0 L1458.4,685.2 L1460.4,685.4 L1462.4,685.6 L1464.4,685.7 L1466.4,685.9 L1468.4,686.1 L1470.4,686.3 L1472.4,686.5 L1474.4,686.7 L1476.4,686.9 L1478.4,687.1 L1480.4,687.3 L1482.3,687.5 L1484.3,687.7 L1486.3,687.9 L1488.3,688.1 L1490.3,688.3 L1492.3,688.5 L1494.3,688.7 L1496.3,688.9 L1498.3,689.0" fill="none" stroke="#EF3A3E" stroke-width="4.2" stroke-linejoin="round" stroke-linecap="butt"/>
<path d="M892.9,441.8 V805.6 H1527.0" fill="none" stroke="#000" stroke-width="2.4" stroke-linejoin="round"/>
<line x1="917.3" y1="805.6" x2="917.3" y2="808.6" stroke="#333" stroke-width="1.4"/>
<text x="917.3" y="820.4" text-anchor="middle" font-family="'Liberation Sans', Arial, sans-serif" font-size="13" fill="#333333" stroke="#333333" stroke-width="0.2">0</text>
<line x1="1136.6" y1="805.6" x2="1136.6" y2="808.6" stroke="#333" stroke-width="1.4"/>
<text x="1136.6" y="820.4" text-anchor="middle" font-family="'Liberation Sans', Arial, sans-serif" font-size="13" fill="#333333" stroke="#333333" stroke-width="0.2">200</text>
<line x1="1355.6" y1="805.6" x2="1355.6" y2="808.6" stroke="#333" stroke-width="1.4"/>
<text x="1355.6" y="820.4" text-anchor="middle" font-family="'Liberation Sans', Arial, sans-serif" font-size="13" fill="#333333" stroke="#333333" stroke-width="0.2">400</text>
<line x1="889.9" y1="517.0" x2="892.9" y2="517.0" stroke="#333" stroke-width="1.4"/>
<text x="887.4" y="520.7" text-anchor="end" font-family="'Liberation Sans', Arial, sans-serif" font-size="13" fill="#333333" stroke="#333333" stroke-width="0.2">1.5</text>
<line x1="889.9" y1="632.8" x2="892.9" y2="632.8" stroke="#333" stroke-width="1.4"/>
<text x="887.4" y="636.5" text-anchor="end" font-family="'Liberation Sans', Arial, sans-serif" font-size="13" fill="#333333" stroke="#333333" stroke-width="0.2">1.0</text>
<line x1="889.9" y1="748.3" x2="892.9" y2="748.3" stroke="#333" stroke-width="1.4"/>
<text x="887.4" y="752.0" text-anchor="end" font-family="'Liberation Sans', Arial, sans-serif" font-size="13" fill="#333333" stroke="#333333" stroke-width="0.2">0.5</text>
<text x="1240.1" y="831.9" text-anchor="middle" font-family="'Liberation Serif', 'Times New Roman', serif" font-size="15.2" fill="#000" stroke="#000" stroke-width="0.25">Selenium intake (μg/day)</text>
<text transform="translate(865.2,630.7) rotate(-90)" text-anchor="middle" font-family="'Liberation Serif', 'Times New Roman', serif" font-size="15.2" fill="#000" stroke="#000" stroke-width="0.25">Predicted probability of advanced CKM</text>
<text x="1274.8" y="486.3" font-family="'Liberation Serif', 'Times New Roman', serif" font-size="15" fill="#000" stroke="#000" stroke-width="0.25">P for non-linearity = 0.823</text>
<text transform="translate(807.2,416.1) scale(1,1.000)" font-family="'Liberation Serif', 'Times New Roman', serif" font-size="24.0" fill="#000">E</text>
</g>
<g>
<path d="M921.7,874.5 L923.7,876.1 L925.7,877.8 L927.7,879.5 L929.7,881.1 L931.7,882.8 L933.7,884.5 L935.7,886.2 L937.7,887.9 L939.7,889.6 L941.7,891.3 L943.7,893.0 L945.7,894.8 L947.7,896.5 L949.7,898.2 L951.6,900.0 L953.6,901.7 L955.6,903.4 L957.6,905.2 L959.6,906.9 L961.6,908.7 L963.6,910.4 L965.6,912.2 L967.6,913.9 L969.6,915.7 L971.6,917.5 L973.6,919.2 L975.6,921.0 L977.6,922.7 L979.6,924.5 L981.6,926.2 L983.6,928.0 L985.6,929.7 L987.6,931.5 L989.6,933.2 L991.6,934.9 L993.6,936.7 L995.6,938.4 L997.6,940.1 L999.6,941.8 L1001.6,943.6 L1003.6,945.3 L1005.6,947.0 L1007.6,948.6 L1009.6,950.3 L1011.5,952.0 L1013.5,953.7 L1015.5,955.3 L1017.5,957.0 L1019.5,958.6 L1021.5,960.3 L1023.5,961.9 L1025.5,963.5 L1027.5,965.1 L1029.5,966.7 L1031.5,968.3 L1033.5,969.9 L1035.5,971.5 L1037.5,973.0 L1039.5,974.6 L1041.5,976.1 L1043.5,977.6 L1045.5,979.2 L1047.5,980.7 L1049.5,982.2 L1051.5,983.6 L1053.5,985.1 L1055.5,986.6 L1057.5,988.0 L1059.5,989.5 L1061.5,990.9 L1063.5,992.3 L1065.5,993.7 L1067.5,995.1 L1069.5,996.5 L1071.4,997.9 L1073.4,999.3 L1075.4,1000.7 L1077.4,1002.0 L1079.4,1003.4 L1081.4,1004.7 L1083.4,1006.0 L1085.4,1007.3 L1087.4,1008.7 L1089.4,1010.0 L1091.4,1011.3 L1093.4,1012.5 L1095.4,1013.8 L1097.4,1015.1 L1099.4,1016.4 L1101.4,1017.6 L1103.4,1018.9 L1105.4,1020.1 L1107.4,1021.4 L1109.4,1022.6 L1111.4,1023.8 L1113.4,1025.0 L1115.4,1026.3 L1117.4,1027.5 L1119.4,1028.7 L1121.4,1029.9 L1123.4,1031.1 L1125.4,1032.3 L1127.4,1033.4 L1129.3,1034.6 L1131.3,1035.8 L1133.3,1037.0 L1135.3,1038.1 L1137.3,1039.3 L1139.3,1040.5 L1141.3,1041.6 L1143.3,1042.8 L1145.3,1043.9 L1147.3,1045.1 L1149.3,1046.2 L1151.3,1047.3 L1153.3,1048.5 L1155.3,1049.6 L1157.3,1050.7 L1159.3,1051.8 L1161.3,1052.9 L1163.3,1054.1 L1165.3,1055.2 L1167.3,1056.3 L1169.3,1057.3 L1171.3,1058.4 L1173.3,1059.5 L1175.3,1060.6 L1177.3,1061.7 L1179.3,1062.7 L1181.3,1063.8 L1183.3,1064.9 L1185.3,1065.9 L1187.3,1066.9 L1189.2,1068.0 L1191.2,1069.0 L1193.2,1070.0 L1195.2,1071.1 L1197.2,1072.1 L1199.2,1073.1 L1201.2,1074.1 L1203.2,1075.1 L1205.2,1076.0 L1207.2,1077.0 L1209.2,1078.0 L1211.2,1078.9 L1213.2,1079.9 L1215.2,1080.8 L1217.2,1081.7 L1219.2,1082.7 L1221.2,1083.6 L1223.2,1084.5 L1225.2,1085.3 L1227.2,1086.2 L1229.2,1087.1 L1231.2,1087.9 L1233.2,1088.8 L1235.2,1089.6 L1237.2,1090.5 L1239.2,1091.3 L1241.2,1092.1 L1243.2,1092.9 L1245.2,1093.7 L1247.2,1094.5 L1249.1,1095.3 L1251.1,1096.1 L1253.1,1096.9 L1255.1,1097.7 L1257.1,1098.5 L1259.1,1099.3 L1261.1,1100.1 L1263.1,1100.8 L1265.1,1101.6 L1267.1,1102.4 L1269.1,1103.2 L1271.1,1104.0 L1273.1,1104.7 L1275.1,1105.5 L1277.1,1106.3 L1279.1,1107.0 L1281.1,1107.8 L1283.1,1108.5 L1285.1,1109.3 L1287.1,1110.0 L1289.1,1110.7 L1291.1,1111.5 L1293.1,1112.2 L1295.1,1112.9 L1297.1,1113.6 L1299.1,1114.3 L1301.1,1115.0 L1303.1,1115.7 L1305.1,1116.4 L1307.1,1117.1 L1309.0,1117.8 L1311.0,1118.5 L1313.0,1119.2 L1315.0,1120.0 L1317.0,1120.7 L1319.0,1121.5 L1321.0,1122.3 L1323.0,1123.1 L1325.0,1123.9 L1327.0,1124.7 L1329.0,1125.6 L1331.0,1126.4 L1333.0,1127.3 L1335.0,1128.1 L1337.0,1129.0 L1339.0,1128.9 L1341.0,1128.6 L1343.0,1128.4 L1345.0,1128.1 L1347.0,1127.9 L1348.9,1127.7 L1350.9,1127.5 L1352.9,1127.2 L1354.9,1127.0 L1356.9,1126.8 L1358.9,1126.6 L1360.9,1126.3 L1362.9,1126.1 L1364.9,1125.9 L1366.9,1125.7 L1368.8,1125.5 L1370.8,1125.3 L1372.8,1125.1 L1374.8,1124.9 L1376.8,1124.8 L1378.8,1124.6 L1380.8,1124.4 L1382.8,1124.2 L1384.8,1124.0 L1386.8,1123.9 L1388.7,1123.7 L1390.7,1123.5 L1392.7,1123.4 L1394.7,1123.2 L1396.7,1123.1 L1398.7,1122.9 L1400.7,1122.8 L1402.7,1122.6 L1404.7,1122.5 L1406.7,1122.3 L1408.6,1122.2 L1410.6,1122.1 L1412.6,1121.9 L1414.6,1121.8 L1416.6,1121.7 L1418.6,1121.6 L1420.6,1121.4 L1422.6,1121.3 L1424.6,1121.2 L1426.6,1121.1 L1428.5,1121.0 L1430.5,1120.9 L1432.5,1120.7 L1434.5,1120.6 L1436.5,1120.5 L1438.5,1120.4 L1440.5,1120.3 L1442.5,1120.2 L1444.5,1120.1 L1446.5,1120.0 L1448.4,1119.9 L1450.4,1119.8 L1452.4,1119.7 L1454.4,1119.6 L1456.4,1119.5 L1458.4,1119.5 L1460.4,1119.4 L1462.4,1119.3 L1464.4,1119.2 L1466.4,1119.1 L1468.3,1119.0 L1470.3,1118.9 L1472.3,1118.9 L1474.3,1118.8 L1476.3,1118.7 L1478.3,1118.6 L1480.3,1118.5 L1482.3,1118.5 L1484.3,1118.4 L1486.3,1118.3 L1488.2,1118.2 L1490.2,1118.2 L1492.2,1118.1 L1494.2,1118.0 L1496.2,1117.9 L1498.2,1117.9 L1498.2,1203.9 L1496.2,1203.3 L1494.2,1202.8 L1492.2,1202.2 L1490.2,1201.6 L1488.2,1201.0 L1486.3,1200.5 L1484.3,1199.9 L1482.3,1199.3 L1480.3,1198.7 L1478.3,1198.0 L1476.3,1197.4 L1474.3,1196.8 L1472.3,1196.1 L1470.3,1195.5 L1468.3,1194.8 L1466.4,1194.1 L1464.4,1193.4 L1462.4,1192.7 L1460.4,1192.0 L1458.4,1191.3 L1456.4,1190.6 L1454.4,1189.8 L1452.4,1189.0 L1450.4,1188.3 L1448.4,1187.5 L1446.5,1186.7 L1444.5,1185.8 L1442.5,1185.0 L1440.5,1184.2 L1438.5,1183.3 L1436.5,1182.4 L1434.5,1181.5 L1432.5,1180.6 L1430.5,1179.7 L1428.5,1178.7 L1426.6,1177.8 L1424.6,1176.8 L1422.6,1175.8 L1420.6,1174.8 L1418.6,1173.8 L1416.6,1172.8 L1414.6,1171.8 L1412.6,1170.7 L1410.6,1169.6 L1408.6,1168.6 L1406.7,1167.5 L1404.7,1166.4 L1402.7,1165.2 L1400.7,1164.1 L1398.7,1163.0 L1396.7,1161.9 L1394.7,1160.7 L1392.7,1159.6 L1390.7,1158.4 L1388.7,1157.2 L1386.8,1156.1 L1384.8,1154.9 L1382.8,1153.7 L1380.8,1152.5 L1378.8,1151.4 L1376.8,1150.2 L1374.8,1149.1 L1372.8,1147.9 L1370.8,1146.8 L1368.8,1145.6 L1366.9,1144.5 L1364.9,1143.4 L1362.9,1142.3 L1360.9,1141.2 L1358.9,1140.1 L1356.9,1139.0 L1354.9,1138.0 L1352.9,1136.9 L1350.9,1135.9 L1348.9,1134.9 L1347.0,1133.9 L1345.0,1132.9 L1343.0,1131.9 L1341.0,1130.9 L1339.0,1129.9 L1337.0,1128.9 L1335.0,1129.0 L1333.0,1129.0 L1331.0,1129.1 L1329.0,1129.1 L1327.0,1129.2 L1325.0,1129.2 L1323.0,1129.3 L1321.0,1129.3 L1319.0,1129.4 L1317.0,1129.5 L1315.0,1129.6 L1313.0,1129.6 L1311.0,1129.7 L1309.0,1129.8 L1307.1,1129.9 L1305.1,1130.0 L1303.1,1130.1 L1301.1,1130.3 L1299.1,1130.4 L1297.1,1130.5 L1295.1,1130.6 L1293.1,1130.8 L1291.1,1130.9 L1289.1,1131.1 L1287.1,1131.2 L1285.1,1131.4 L1283.1,1131.6 L1281.1,1131.8 L1279.1,1131.9 L1277.1,1132.1 L1275.1,1132.3 L1273.1,1132.5 L1271.1,1132.7 L1269.1,1132.9 L1267.1,1133.1 L1265.1,1133.3 L1263.1,1133.5 L1261.1,1133.7 L1259.1,1134.0 L1257.1,1134.2 L1255.1,1134.4 L1253.1,1134.7 L1251.1,1134.9 L1249.1,1135.1 L1247.2,1135.4 L1245.2,1135.6 L1243.2,1135.9 L1241.2,1136.1 L1239.2,1136.4 L1237.2,1136.6 L1235.2,1136.9 L1233.2,1137.1 L1231.2,1137.4 L1229.2,1137.6 L1227.2,1137.9 L1225.2,1138.2 L1223.2,1138.4 L1221.2,1138.7 L1219.2,1139.0 L1217.2,1139.2 L1215.2,1139.5 L1213.2,1139.8 L1211.2,1140.1 L1209.2,1140.3 L1207.2,1140.6 L1205.2,1140.9 L1203.2,1141.2 L1201.2,1141.5 L1199.2,1141.7 L1197.2,1142.0 L1195.2,1142.3 L1193.2,1142.6 L1191.2,1142.9 L1189.2,1143.2 L1187.3,1143.5 L1185.3,1143.7 L1183.3,1144.0 L1181.3,1144.3 L1179.3,1144.6 L1177.3,1144.9 L1175.3,1145.2 L1173.3,1145.5 L1171.3,1145.8 L1169.3,1146.1 L1167.3,1146.3 L1165.3,1146.6 L1163.3,1146.9 L1161.3,1147.2 L1159.3,1147.5 L1157.3,1147.8 L1155.3,1148.1 L1153.3,1148.4 L1151.3,1148.7 L1149.3,1148.9 L1147.3,1149.2 L1145.3,1149.5 L1143.3,1149.8 L1141.3,1150.1 L1139.3,1150.4 L1137.3,1150.7 L1135.3,1151.0 L1133.3,1151.3 L1131.3,1151.5 L1129.3,1151.8 L1127.4,1152.1 L1125.4,1152.4 L1123.4,1152.7 L1121.4,1153.0 L1119.4,1153.3 L1117.4,1153.5 L1115.4,1153.8 L1113.4,1154.1 L1111.4,1154.4 L1109.4,1154.7 L1107.4,1154.9 L1105.4,1155.2 L1103.4,1155.5 L1101.4,1155.8 L1099.4,1156.1 L1097.4,1156.3 L1095.4,1156.6 L1093.4,1156.9 L1091.4,1157.2 L1089.4,1157.4 L1087.4,1157.7 L1085.4,1158.0 L1083.4,1158.3 L1081.4,1158.5 L1079.4,1158.8 L1077.4,1159.1 L1075.4,1159.3 L1073.4,1159.6 L1071.4,1159.9 L1069.5,1160.1 L1067.5,1160.4 L1065.5,1160.7 L1063.5,1160.9 L1061.5,1161.2 L1059.5,1161.4 L1057.5,1161.7 L1055.5,1162.0 L1053.5,1162.2 L1051.5,1162.5 L1049.5,1162.7 L1047.5,1163.0 L1045.5,1163.2 L1043.5,1163.5 L1041.5,1163.8 L1039.5,1164.0 L1037.5,1164.3 L1035.5,1164.5 L1033.5,1164.7 L1031.5,1165.0 L1029.5,1165.2 L1027.5,1165.5 L1025.5,1165.7 L1023.5,1166.0 L1021.5,1166.2 L1019.5,1166.5 L1017.5,1166.7 L1015.5,1166.9 L1013.5,1167.2 L1011.5,1167.4 L1009.6,1167.6 L1007.6,1167.9 L1005.6,1168.1 L1003.6,1168.3 L1001.6,1168.6 L999.6,1168.8 L997.6,1169.0 L995.6,1169.3 L993.6,1169.5 L991.6,1169.7 L989.6,1169.9 L987.6,1170.2 L985.6,1170.4 L983.6,1170.6 L981.6,1170.8 L979.6,1171.1 L977.6,1171.3 L975.6,1171.5 L973.6,1171.7 L971.6,1171.9 L969.6,1172.1 L967.6,1172.4 L965.6,1172.6 L963.6,1172.8 L961.6,1173.0 L959.6,1173.2 L957.6,1173.4 L955.6,1173.6 L953.6,1173.8 L951.6,1174.0 L949.7,1174.2 L947.7,1174.4 L945.7,1174.6 L943.7,1174.8 L941.7,1175.1 L939.7,1175.3 L937.7,1175.5 L935.7,1175.6 L933.7,1175.8 L931.7,1176.0 L929.7,1176.2 L927.7,1176.4 L925.7,1176.6 L923.7,1176.8 L921.7,1177.0 Z" fill="#FDE1E3"/>
<line x1="893.1" y1="1129.0" x2="1527.0" y2="1129.0" stroke="#000" stroke-width="3.3" stroke-dasharray="13.8 13.8"/>
<line x1="1337.0" y1="1220.6" x2="1337.0" y2="856.8" stroke="#000" stroke-width="2.3" stroke-dasharray="9.2 9.2"/>
<path d="M921.7,1072.7 L923.7,1073.0 L925.7,1073.3 L927.7,1073.6 L929.7,1073.9 L931.7,1074.2 L933.7,1074.5 L935.7,1074.8 L937.7,1075.1 L939.7,1075.5 L941.6,1075.8 L943.6,1076.1 L945.6,1076.4 L947.6,1076.7 L949.6,1077.0 L951.6,1077.3 L953.6,1077.6 L955.6,1077.9 L957.6,1078.2 L959.6,1078.6 L961.6,1078.9 L963.6,1079.2 L965.6,1079.5 L967.6,1079.8 L969.6,1080.1 L971.6,1080.4 L973.6,1080.7 L975.6,1081.1 L977.6,1081.4 L979.5,1081.7 L981.5,1082.0 L983.5,1082.3 L985.5,1082.6 L987.5,1082.9 L989.5,1083.2 L991.5,1083.5 L993.5,1083.8 L995.5,1084.1 L997.5,1084.4 L999.5,1084.7 L1001.5,1085.1 L1003.5,1085.4 L1005.5,1085.7 L1007.5,1086.0 L1009.5,1086.3 L1011.5,1086.6 L1013.5,1086.8 L1015.5,1087.1 L1017.5,1087.4 L1019.4,1087.7 L1021.4,1088.0 L1023.4,1088.3 L1025.4,1088.6 L1027.4,1088.9 L1029.4,1089.2 L1031.4,1089.4 L1033.4,1089.7 L1035.4,1090.0 L1037.4,1090.3 L1039.4,1090.5 L1041.4,1090.8 L1043.4,1091.1 L1045.4,1091.3 L1047.4,1091.6 L1049.4,1091.9 L1051.4,1092.1 L1053.4,1092.4 L1055.4,1092.6 L1057.3,1092.9 L1059.3,1093.2 L1061.3,1093.4 L1063.3,1093.7 L1065.3,1093.9 L1067.3,1094.1 L1069.3,1094.4 L1071.3,1094.6 L1073.3,1094.9 L1075.3,1095.1 L1077.3,1095.3 L1079.3,1095.6 L1081.3,1095.8 L1083.3,1096.0 L1085.3,1096.2 L1087.3,1096.5 L1089.3,1096.7 L1091.3,1096.9 L1093.3,1097.1 L1095.2,1097.4 L1097.2,1097.6 L1099.2,1097.8 L1101.2,1098.0 L1103.2,1098.2 L1105.2,1098.4 L1107.2,1098.6 L1109.2,1098.9 L1111.2,1099.1 L1113.2,1099.3 L1115.2,1099.5 L1117.2,1099.7 L1119.2,1099.9 L1121.2,1100.1 L1123.2,1100.3 L1125.2,1100.6 L1127.2,1100.8 L1129.2,1101.0 L1131.2,1101.2 L1133.1,1101.4 L1135.1,1101.6 L1137.1,1101.9 L1139.1,1102.1 L1141.1,1102.3 L1143.1,1102.5 L1145.1,1102.7 L1147.1,1103.0 L1149.1,1103.2 L1151.1,1103.4 L1153.1,1103.7 L1155.1,1103.9 L1157.1,1104.1 L1159.1,1104.3 L1161.1,1104.6 L1163.1,1104.8 L1165.1,1105.1 L1167.1,1105.3 L1169.1,1105.5 L1171.1,1105.8 L1173.0,1106.0 L1175.0,1106.2 L1177.0,1106.5 L1179.0,1106.7 L1181.0,1107.0 L1183.0,1107.2 L1185.0,1107.5 L1187.0,1107.7 L1189.0,1108.0 L1191.0,1108.2 L1193.0,1108.4 L1195.0,1108.7 L1197.0,1108.9 L1199.0,1109.2 L1201.0,1109.4 L1203.0,1109.7 L1205.0,1109.9 L1207.0,1110.1 L1209.0,1110.4 L1210.9,1110.6 L1212.9,1110.9 L1214.9,1111.1 L1216.9,1111.3 L1218.9,1111.6 L1220.9,1111.8 L1222.9,1112.0 L1224.9,1112.3 L1226.9,1112.5 L1228.9,1112.7 L1230.9,1112.9 L1232.9,1113.2 L1234.9,1113.4 L1236.9,1113.6 L1238.9,1113.8 L1240.9,1114.0 L1242.9,1114.2 L1244.9,1114.5 L1246.9,1114.7 L1248.8,1114.9 L1250.8,1115.1 L1252.8,1115.3 L1254.8,1115.5 L1256.8,1115.7 L1258.8,1115.9 L1260.8,1116.2 L1262.8,1116.4 L1264.8,1116.6 L1266.8,1116.8 L1268.8,1117.0 L1270.8,1117.3 L1272.8,1117.5 L1274.8,1117.7 L1276.8,1118.0 L1278.8,1118.2 L1280.8,1118.5 L1282.8,1118.7 L1284.8,1119.0 L1286.8,1119.2 L1288.7,1119.5 L1290.7,1119.8 L1292.7,1120.0 L1294.7,1120.3 L1296.7,1120.6 L1298.7,1120.9 L1300.7,1121.2 L1302.7,1121.5 L1304.7,1121.8 L1306.7,1122.1 L1308.7,1122.5 L1310.7,1122.8 L1312.7,1123.2 L1314.7,1123.6 L1316.7,1124.0 L1318.7,1124.4 L1320.7,1124.8 L1322.7,1125.3 L1324.7,1125.7 L1326.6,1126.2 L1328.6,1126.7 L1330.6,1127.2 L1332.6,1127.8 L1334.6,1128.3 L1336.6,1128.9 L1338.6,1129.5 L1340.6,1130.0 L1342.6,1130.6 L1344.6,1131.2 L1346.6,1131.8 L1348.6,1132.5 L1350.6,1133.1 L1352.6,1133.7 L1354.6,1134.3 L1356.6,1134.9 L1358.6,1135.5 L1360.6,1136.1 L1362.6,1136.7 L1364.5,1137.3 L1366.5,1138.0 L1368.5,1138.6 L1370.5,1139.2 L1372.5,1139.7 L1374.5,1140.3 L1376.5,1140.9 L1378.5,1141.5 L1380.5,1142.1 L1382.5,1142.7 L1384.5,1143.3 L1386.5,1143.8 L1388.5,1144.4 L1390.5,1145.0 L1392.5,1145.5 L1394.5,1146.1 L1396.5,1146.6 L1398.5,1147.2 L1400.5,1147.7 L1402.4,1148.2 L1404.4,1148.8 L1406.4,1149.3 L1408.4,1149.8 L1410.4,1150.4 L1412.4,1150.9 L1414.4,1151.4 L1416.4,1151.9 L1418.4,1152.4 L1420.4,1152.9 L1422.4,1153.4 L1424.4,1153.9 L1426.4,1154.4 L1428.4,1154.9 L1430.4,1155.3 L1432.4,1155.8 L1434.4,1156.3 L1436.4,1156.7 L1438.4,1157.2 L1440.4,1157.6 L1442.3,1158.1 L1444.3,1158.5 L1446.3,1158.9 L1448.3,1159.4 L1450.3,1159.8 L1452.3,1160.2 L1454.3,1160.6 L1456.3,1161.0 L1458.3,1161.4 L1460.3,1161.8 L1462.3,1162.1 L1464.3,1162.5 L1466.3,1162.9 L1468.3,1163.2 L1470.3,1163.6 L1472.3,1163.9 L1474.3,1164.3 L1476.3,1164.6 L1478.3,1165.0 L1480.2,1165.3 L1482.2,1165.6 L1484.2,1165.9 L1486.2,1166.3 L1488.2,1166.6 L1490.2,1166.9 L1492.2,1167.2 L1494.2,1167.5 L1496.2,1167.8 L1498.2,1168.1" fill="none" stroke="#EF3A3E" stroke-width="4.2" stroke-linejoin="round" stroke-linecap="butt"/>
<path d="M893.1,856.8 V1220.6 H1527.0" fill="none" stroke="#000" stroke-width="2.4" stroke-linejoin="round"/>
<line x1="1044.0" y1="1220.6" x2="1044.0" y2="1223.6" stroke="#333" stroke-width="1.4"/>
<text x="1044.5" y="1235.4" text-anchor="middle" font-family="'Liberation Sans', Arial, sans-serif" font-size="13" fill="#333333" stroke="#333333" stroke-width="0.2">3</text>
<line x1="1202.3" y1="1220.6" x2="1202.3" y2="1223.6" stroke="#333" stroke-width="1.4"/>
<text x="1203.2" y="1235.4" text-anchor="middle" font-family="'Liberation Sans', Arial, sans-serif" font-size="13" fill="#333333" stroke="#333333" stroke-width="0.2">6</text>
<line x1="1360.7" y1="1220.6" x2="1360.7" y2="1223.6" stroke="#333" stroke-width="1.4"/>
<text x="1361.5" y="1235.4" text-anchor="middle" font-family="'Liberation Sans', Arial, sans-serif" font-size="13" fill="#333333" stroke="#333333" stroke-width="0.2">9</text>
<line x1="1519.6" y1="1220.6" x2="1519.6" y2="1223.6" stroke="#333" stroke-width="1.4"/>
<text x="1521.2" y="1235.4" text-anchor="middle" font-family="'Liberation Sans', Arial, sans-serif" font-size="13" fill="#333333" stroke="#333333" stroke-width="0.2">12</text>
<line x1="890.1" y1="880.3" x2="893.1" y2="880.3" stroke="#333" stroke-width="1.4"/>
<text x="887.6" y="884.0" text-anchor="end" font-family="'Liberation Sans', Arial, sans-serif" font-size="13" fill="#333333" stroke="#333333" stroke-width="0.2">2.5</text>
<line x1="890.1" y1="962.8" x2="893.1" y2="962.8" stroke="#333" stroke-width="1.4"/>
<text x="887.6" y="966.5" text-anchor="end" font-family="'Liberation Sans', Arial, sans-serif" font-size="13" fill="#333333" stroke="#333333" stroke-width="0.2">2.0</text>
<line x1="890.1" y1="1046.0" x2="893.1" y2="1046.0" stroke="#333" stroke-width="1.4"/>
<text x="887.6" y="1049.7" text-anchor="end" font-family="'Liberation Sans', Arial, sans-serif" font-size="13" fill="#333333" stroke="#333333" stroke-width="0.2">1.5</text>
<line x1="890.1" y1="1129.1" x2="893.1" y2="1129.1" stroke="#333" stroke-width="1.4"/>
<text x="887.6" y="1132.8" text-anchor="end" font-family="'Liberation Sans', Arial, sans-serif" font-size="13" fill="#333333" stroke="#333333" stroke-width="0.2">1.0</text>
<line x1="890.1" y1="1211.7" x2="893.1" y2="1211.7" stroke="#333" stroke-width="1.4"/>
<text x="887.6" y="1215.4" text-anchor="end" font-family="'Liberation Sans', Arial, sans-serif" font-size="13" fill="#333333" stroke="#333333" stroke-width="0.2">0.5</text>
<text x="1215.2" y="1247.6" text-anchor="middle" font-family="'Liberation Serif', 'Times New Roman', serif" font-size="15.2" fill="#000" stroke="#000" stroke-width="0.25">Ln Carotenoid intake (μg/day)</text>
<text transform="translate(868.9,1032.7) rotate(-90)" text-anchor="middle" font-family="'Liberation Serif', 'Times New Roman', serif" font-size="15.2" fill="#000" stroke="#000" stroke-width="0.25">Predicted probability of advanced CKM</text>
<text x="1342.8" y="918.5" font-family="'Liberation Serif', 'Times New Roman', serif" font-size="15" fill="#000" stroke="#000" stroke-width="0.25">P for non-linearity = 0.543</text>
<text transform="translate(811.2,845.2) scale(1,1.000)" font-family="'Liberation Serif', 'Times New Roman', serif" font-size="23.5" fill="#000">F</text>
</g>
</svg>
</body></html>
